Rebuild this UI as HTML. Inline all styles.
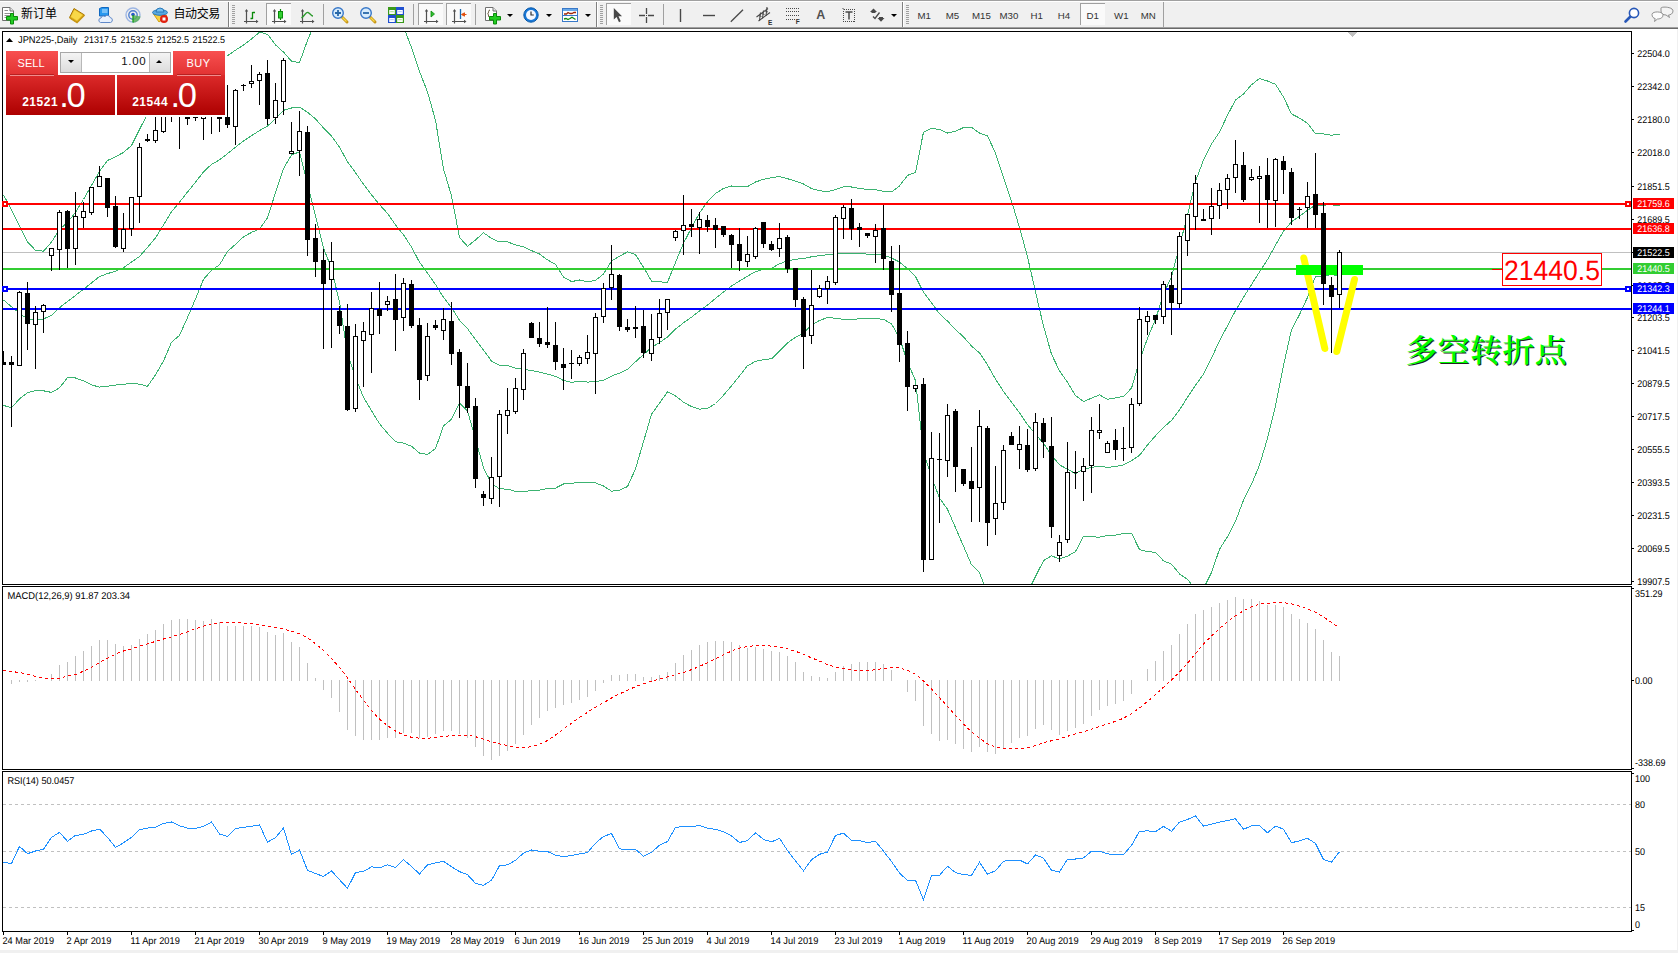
<!DOCTYPE html>
<html><head><meta charset="utf-8"><title>JPN225 Daily</title>
<style>
html,body{margin:0;padding:0;background:#fff;}
body{width:1678px;height:953px;position:relative;overflow:hidden;font-family:"Liberation Sans","Noto Sans CJK SC",sans-serif;}
#edge-r{position:absolute;left:1677px;top:29px;width:1px;height:924px;background:#f0f0f0;}
#edge-b{position:absolute;left:0;top:950px;width:1678px;height:3px;background:#f0f0f0;}
#tb{position:absolute;left:0;top:0;width:1678px;height:29px;background:#f0f0f0;}
#tb .l0{position:absolute;left:0;top:0;width:1678px;height:1px;background:#a0a0a0;}
#tb .l1{position:absolute;left:0;top:1px;width:1678px;height:1px;background:#fff;}
#tb .l27{position:absolute;left:0;top:27px;width:1678px;height:1px;background:#a0a0a0;}
#tb .l28{position:absolute;left:0;top:28px;width:1678px;height:1px;background:#696969;}
#tb .t{position:absolute;top:7px;font-size:12px;line-height:14px;color:#000;white-space:nowrap;}
#tb .tf{position:absolute;top:9.5px;font-size:9.7px;line-height:12px;color:#333;white-space:nowrap;}
#tb .sep{position:absolute;top:4px;width:1px;height:21px;background:#a0a0a0;}
#tb .bsep{position:absolute;top:2px;width:1px;height:25px;background:#808080;border-right:1px solid #fff;}
#tb .grip{position:absolute;top:5px;width:3px;height:20px;background:repeating-linear-gradient(to bottom,#a0a0a0 0,#a0a0a0 1px,transparent 1px,transparent 2px);}
#tb .pr{position:absolute;top:3px;height:22px;width:25px;background:#fafafa;box-sizing:border-box;border-top:1px solid #a0a0a0;border-left:1px solid #a0a0a0;}
#tb svg{position:absolute;overflow:visible;}
#tb .dd{position:absolute;top:14px;width:0;height:0;border-left:3px solid transparent;border-right:3px solid transparent;border-top:3px solid #000;}
#ocp{position:absolute;left:3px;top:47px;width:224px;height:70px;background:#fff;}
#ocp div{position:absolute;box-sizing:border-box;}
#ocp .red1{background:linear-gradient(#f85050,#e23232);}
#ocp .red2{background:linear-gradient(#dc2a2a,#ad0000);}
#ocp .w{color:#fff;white-space:nowrap;}

</style></head><body>
<svg width="1678" height="953" viewBox="0 0 1678 953" shape-rendering="crispEdges" style="position:absolute;left:0;top:0;font-family:'Liberation Sans',sans-serif" text-rendering="geometricPrecision"><rect x="2" y="31" width="1630" height="1" fill="#000"/>
<rect x="2" y="584" width="1630" height="1" fill="#000"/>
<rect x="2" y="31" width="1" height="554" fill="#000"/>
<rect x="1631" y="31" width="1" height="554" fill="#000"/>
<rect x="2" y="586" width="1630" height="1" fill="#000"/>
<rect x="2" y="769" width="1630" height="1" fill="#000"/>
<rect x="2" y="586" width="1" height="184" fill="#000"/>
<rect x="1631" y="586" width="1" height="184" fill="#000"/>
<rect x="2" y="771" width="1630" height="1" fill="#000"/>
<rect x="2" y="931" width="1630" height="1" fill="#000"/>
<rect x="2" y="771" width="1" height="161" fill="#000"/>
<rect x="1631" y="771" width="1" height="161" fill="#000"/>
<rect x="3" y="252" width="1628" height="1" fill="#c0c0c0"/>
<defs><clipPath id="cm"><rect x="3" y="32" width="1628" height="552"/></clipPath><clipPath id="c2"><rect x="3" y="587" width="1628" height="182"/></clipPath><clipPath id="c3"><rect x="3" y="772" width="1628" height="159"/></clipPath></defs>
<polyline points="3.5,194.9 11.5,209.9 19.5,225.8 27.5,241.8 35.5,250.3 43.5,251.2 51.5,242.1 59.5,229.4 67.5,222.5 75.5,212.2 83.5,199.5 91.5,185.3 99.5,171.4 107.5,160.5 115.5,156.8 123.5,152.4 131.5,145.5 139.5,129.5 147.5,114.0 155.5,102.0 163.5,88.9 171.5,81.3 179.5,69.1 187.5,66.4 195.5,65.6 203.5,64.3 211.5,58.7 219.5,54.6 227.5,55.7 235.5,50.2 243.5,45.0 251.5,38.9 259.5,32.2 267.5,34.3 275.5,44.9 283.5,52.1 291.5,61.2 299.5,62.6 307.5,40.3 315.5,21.8 323.5,7.9 331.5,3.5 339.5,-7.8 347.5,-30.1 355.5,-32.3 363.5,-28.7 371.5,-21.2 379.5,-14.5 387.5,-6.3 395.5,8.1 403.5,26.5 411.5,47.7 419.5,71.5 427.5,91.9 435.5,120.3 443.5,168.9 451.5,195.9 459.5,237.5 467.5,246.3 475.5,240.0 483.5,232.7 491.5,238.5 499.5,242.0 507.5,241.9 515.5,244.9 523.5,246.9 531.5,250.6 539.5,254.0 547.5,259.9 555.5,264.5 563.5,277.0 571.5,281.6 579.5,280.0 587.5,281.9 595.5,280.3 603.5,274.1 611.5,261.0 619.5,256.2 627.5,251.9 635.5,254.6 643.5,267.3 651.5,281.0 659.5,281.9 667.5,282.2 675.5,262.4 683.5,243.3 691.5,227.8 699.5,212.9 707.5,201.7 715.5,193.5 723.5,188.4 731.5,186.0 739.5,186.2 747.5,186.6 755.5,182.0 763.5,179.3 771.5,177.6 779.5,176.5 787.5,178.7 795.5,181.2 803.5,184.0 811.5,188.5 819.5,190.6 827.5,191.7 835.5,189.7 843.5,186.7 851.5,187.0 859.5,188.4 867.5,189.4 875.5,189.6 883.5,191.4 891.5,191.9 899.5,186.0 907.5,175.4 915.5,172.3 923.5,132.1 931.5,128.5 939.5,129.5 947.5,133.0 955.5,131.3 963.5,127.6 971.5,127.2 979.5,133.1 987.5,135.9 995.5,153.1 1003.5,177.7 1011.5,201.1 1019.5,227.6 1027.5,256.8 1035.5,291.9 1043.5,326.1 1051.5,354.2 1059.5,370.8 1067.5,382.2 1075.5,395.5 1083.5,401.5 1091.5,398.2 1099.5,394.9 1107.5,399.3 1115.5,398.0 1123.5,396.3 1131.5,388.2 1139.5,361.0 1147.5,338.2 1155.5,319.4 1163.5,294.1 1171.5,276.7 1179.5,246.1 1187.5,215.1 1195.5,181.3 1203.5,160.0 1211.5,144.0 1219.5,132.1 1227.5,115.2 1235.5,99.9 1243.5,94.1 1251.5,84.7 1259.5,78.6 1267.5,81.0 1275.5,84.3 1283.5,97.1 1291.5,113.9 1299.5,118.1 1307.5,123.3 1315.5,133.7 1323.5,133.9 1331.5,135.2 1339.5,134.2" fill="none" stroke="#3cb371" stroke-width="1" clip-path="url(#cm)"/>
<polyline points="3.5,300.0 11.5,306.7 19.5,313.3 27.5,319.0 35.5,319.5 43.5,319.0 51.5,315.2 59.5,307.7 67.5,301.4 75.5,295.4 83.5,289.3 91.5,282.9 99.5,276.5 107.5,273.6 115.5,271.3 123.5,267.7 131.5,262.1 139.5,256.5 147.5,247.4 155.5,237.8 163.5,224.9 171.5,211.8 179.5,202.2 187.5,192.0 195.5,182.2 203.5,171.8 211.5,164.4 219.5,159.8 227.5,153.6 235.5,147.2 243.5,140.9 251.5,135.7 259.5,130.6 267.5,126.1 275.5,118.8 283.5,110.3 291.5,108.0 299.5,107.2 307.5,112.2 315.5,118.8 323.5,128.0 331.5,136.0 339.5,147.2 347.5,161.7 355.5,172.7 363.5,184.3 371.5,194.8 379.5,204.6 387.5,213.4 395.5,224.9 403.5,234.8 411.5,247.0 419.5,262.2 427.5,273.1 435.5,284.5 443.5,297.4 451.5,307.6 459.5,320.2 467.5,328.6 475.5,339.5 483.5,350.2 491.5,361.0 499.5,365.4 507.5,365.5 515.5,368.1 523.5,369.2 531.5,370.6 539.5,372.1 547.5,374.2 555.5,376.3 563.5,380.5 571.5,382.4 579.5,381.3 587.5,382.1 595.5,381.6 603.5,380.1 611.5,376.1 619.5,373.1 627.5,369.2 635.5,361.8 643.5,354.5 651.5,347.6 659.5,342.6 667.5,337.0 675.5,329.1 683.5,322.8 691.5,317.2 699.5,311.0 707.5,305.1 715.5,298.5 723.5,291.9 731.5,285.9 739.5,281.1 747.5,276.1 755.5,271.7 763.5,269.4 771.5,268.2 779.5,263.8 787.5,260.8 795.5,259.3 803.5,258.5 811.5,256.8 819.5,255.6 827.5,254.7 835.5,253.9 843.5,253.1 851.5,253.2 859.5,253.7 867.5,254.1 875.5,254.2 883.5,255.3 891.5,257.9 899.5,262.1 907.5,268.6 915.5,276.5 923.5,292.3 931.5,302.8 939.5,313.8 947.5,321.1 955.5,329.5 963.5,336.9 971.5,346.0 979.5,352.9 987.5,364.9 995.5,379.2 1003.5,391.4 1011.5,402.2 1019.5,412.9 1027.5,424.6 1035.5,434.2 1043.5,443.4 1051.5,455.0 1059.5,464.9 1067.5,469.2 1075.5,473.6 1083.5,468.9 1091.5,467.5 1099.5,466.1 1107.5,467.4 1115.5,466.6 1123.5,464.9 1131.5,460.6 1139.5,455.3 1147.5,445.0 1155.5,435.8 1163.5,427.5 1171.5,420.4 1179.5,410.0 1187.5,397.2 1195.5,385.3 1203.5,374.2 1211.5,358.2 1219.5,340.6 1227.5,325.9 1235.5,310.6 1243.5,297.2 1251.5,284.6 1259.5,271.9 1267.5,259.6 1275.5,245.2 1283.5,231.2 1291.5,221.8 1299.5,216.3 1307.5,210.3 1315.5,205.1 1323.5,205.1 1331.5,204.8 1339.5,205.6" fill="none" stroke="#3cb371" stroke-width="1" clip-path="url(#cm)"/>
<polyline points="3.5,405.4 11.5,407.8 19.5,398.9 27.5,392.7 35.5,390.7 43.5,390.8 51.5,392.4 59.5,387.8 67.5,377.7 75.5,378.0 83.5,380.8 91.5,384.9 99.5,387.1 107.5,386.2 115.5,385.1 123.5,384.2 131.5,383.5 139.5,384.1 147.5,386.3 155.5,374.9 163.5,361.0 171.5,342.2 179.5,335.4 187.5,317.6 195.5,298.9 203.5,279.4 211.5,270.2 219.5,264.9 227.5,251.4 235.5,244.3 243.5,236.9 251.5,232.4 259.5,228.9 267.5,217.9 275.5,192.7 283.5,168.6 291.5,154.9 299.5,151.9 307.5,184.1 315.5,215.7 323.5,248.0 331.5,268.5 339.5,302.1 347.5,353.5 355.5,377.6 363.5,397.4 371.5,410.7 379.5,423.7 387.5,433.2 395.5,441.7 403.5,443.1 411.5,446.3 419.5,453.0 427.5,454.4 435.5,448.7 443.5,426.0 451.5,419.2 459.5,403.0 467.5,411.0 475.5,439.0 483.5,467.7 491.5,483.5 499.5,488.9 507.5,489.1 515.5,491.3 523.5,491.5 531.5,490.7 539.5,490.1 547.5,488.5 555.5,488.1 563.5,484.0 571.5,483.2 579.5,482.6 587.5,482.3 595.5,482.9 603.5,486.0 611.5,491.2 619.5,490.1 627.5,486.6 635.5,468.9 643.5,441.7 651.5,414.2 659.5,403.2 667.5,391.8 675.5,395.9 683.5,402.2 691.5,406.6 699.5,409.1 707.5,408.5 715.5,403.5 723.5,395.3 731.5,385.8 739.5,375.9 747.5,365.7 755.5,361.4 763.5,359.6 771.5,358.8 779.5,351.1 787.5,342.8 795.5,337.4 803.5,333.0 811.5,325.1 819.5,320.5 827.5,317.6 835.5,318.2 843.5,319.4 851.5,319.3 859.5,318.9 867.5,318.8 875.5,318.7 883.5,319.3 891.5,323.8 899.5,338.1 907.5,361.9 915.5,380.7 923.5,452.5 931.5,477.0 939.5,498.1 947.5,509.3 955.5,527.7 963.5,546.1 971.5,564.8 979.5,572.7 987.5,594.0 995.5,605.4 1003.5,605.1 1011.5,603.3 1019.5,598.3 1027.5,592.5 1035.5,576.6 1043.5,560.7 1051.5,555.8 1059.5,559.0 1067.5,556.2 1075.5,551.6 1083.5,536.3 1091.5,536.8 1099.5,537.2 1107.5,535.6 1115.5,535.2 1123.5,533.4 1131.5,533.1 1139.5,549.6 1147.5,551.8 1155.5,552.2 1163.5,560.9 1171.5,564.1 1179.5,573.9 1187.5,579.4 1195.5,589.3 1203.5,588.5 1211.5,572.5 1219.5,549.2 1227.5,536.7 1235.5,521.2 1243.5,500.3 1251.5,484.4 1259.5,465.1 1267.5,438.3 1275.5,406.0 1283.5,365.3 1291.5,329.8 1299.5,314.6 1307.5,297.4 1315.5,276.5 1323.5,276.2 1331.5,274.3 1339.5,276.9" fill="none" stroke="#3cb371" stroke-width="1" clip-path="url(#cm)"/>
<g id="objs">
<rect x="3" y="203" width="1628" height="2" fill="#ff0000"/>
<rect x="3" y="228" width="1628" height="2" fill="#ff0000"/>
<rect x="3" y="268" width="1628" height="2" fill="#32cd32"/>
<rect x="3" y="288" width="1628" height="2" fill="#0000ff"/>
<rect x="3" y="308" width="1628" height="2" fill="#0000ff"/>
<rect x="2" y="201" width="6" height="6" fill="#ff0000"/>
<rect x="4" y="203" width="2" height="2" fill="#fff"/>
<rect x="2" y="286" width="6" height="6" fill="#0000ff"/>
<rect x="4" y="288" width="2" height="2" fill="#fff"/>
<rect x="1625" y="201" width="6" height="6" fill="#ff0000"/>
<rect x="1627" y="203" width="2" height="2" fill="#fff"/>
<rect x="1625" y="286" width="6" height="6" fill="#0000ff"/>
<rect x="1627" y="288" width="2" height="2" fill="#fff"/>
<g shape-rendering="auto" stroke="#ffff00" stroke-width="7" stroke-linecap="round" fill="none"><line x1="1303.8" y1="258" x2="1324.8" y2="348.5"/><line x1="1354.5" y1="279.5" x2="1336.8" y2="351.5"/></g>
<rect x="1296" y="265" width="67" height="10" fill="#00ff00"/>
</g>
<g id="candles" clip-path="url(#cm)">
<rect x="3" y="351" width="1" height="14" fill="#000"/>
<rect x="1" y="362" width="5" height="3" fill="#000"/>
<rect x="11" y="356" width="1" height="71" fill="#000"/>
<rect x="9" y="362" width="5" height="3" fill="#000"/>
<rect x="19" y="291" width="1" height="75" fill="#000"/>
<rect x="17" y="292" width="5" height="74" fill="#000"/>
<rect x="18" y="293" width="3" height="72" fill="#fff"/>
<rect x="27" y="282" width="1" height="68" fill="#000"/>
<rect x="25" y="293" width="5" height="31" fill="#000"/>
<rect x="35" y="306" width="1" height="63" fill="#000"/>
<rect x="33" y="312" width="5" height="13" fill="#000"/>
<rect x="34" y="313" width="3" height="11" fill="#fff"/>
<rect x="43" y="304" width="1" height="29" fill="#000"/>
<rect x="41" y="305" width="5" height="7" fill="#000"/>
<rect x="42" y="306" width="3" height="5" fill="#fff"/>
<rect x="51" y="248" width="1" height="23" fill="#000"/>
<rect x="49" y="248" width="5" height="8" fill="#000"/>
<rect x="50" y="249" width="3" height="6" fill="#fff"/>
<rect x="59" y="210" width="1" height="60" fill="#000"/>
<rect x="57" y="212" width="5" height="38" fill="#000"/>
<rect x="58" y="213" width="3" height="36" fill="#fff"/>
<rect x="67" y="210" width="1" height="58" fill="#000"/>
<rect x="65" y="211" width="5" height="38" fill="#000"/>
<rect x="75" y="192" width="1" height="73" fill="#000"/>
<rect x="73" y="216" width="5" height="33" fill="#000"/>
<rect x="74" y="217" width="3" height="31" fill="#fff"/>
<rect x="83" y="202" width="1" height="26" fill="#000"/>
<rect x="81" y="211" width="5" height="7" fill="#000"/>
<rect x="82" y="212" width="3" height="5" fill="#fff"/>
<rect x="91" y="187" width="1" height="28" fill="#000"/>
<rect x="89" y="187" width="5" height="26" fill="#000"/>
<rect x="90" y="188" width="3" height="24" fill="#fff"/>
<rect x="99" y="166" width="1" height="21" fill="#000"/>
<rect x="97" y="176" width="5" height="11" fill="#000"/>
<rect x="98" y="177" width="3" height="9" fill="#fff"/>
<rect x="107" y="178" width="1" height="39" fill="#000"/>
<rect x="105" y="178" width="5" height="30" fill="#000"/>
<rect x="115" y="196" width="1" height="52" fill="#000"/>
<rect x="113" y="206" width="5" height="41" fill="#000"/>
<rect x="123" y="213" width="1" height="39" fill="#000"/>
<rect x="121" y="229" width="5" height="20" fill="#000"/>
<rect x="122" y="230" width="3" height="18" fill="#fff"/>
<rect x="131" y="197" width="1" height="39" fill="#000"/>
<rect x="129" y="197" width="5" height="32" fill="#000"/>
<rect x="130" y="198" width="3" height="30" fill="#fff"/>
<rect x="139" y="143" width="1" height="80" fill="#000"/>
<rect x="137" y="147" width="5" height="50" fill="#000"/>
<rect x="138" y="148" width="3" height="48" fill="#fff"/>
<rect x="147" y="134" width="1" height="8" fill="#000"/>
<rect x="145" y="139" width="5" height="2" fill="#000"/>
<rect x="155" y="108" width="1" height="35" fill="#000"/>
<rect x="153" y="130" width="5" height="11" fill="#000"/>
<rect x="154" y="131" width="3" height="9" fill="#fff"/>
<rect x="163" y="97" width="1" height="36" fill="#000"/>
<rect x="161" y="99" width="5" height="33" fill="#000"/>
<rect x="162" y="100" width="3" height="31" fill="#fff"/>
<rect x="171" y="96" width="1" height="26" fill="#000"/>
<rect x="169" y="98" width="5" height="3" fill="#000"/>
<rect x="179" y="98" width="1" height="51" fill="#000"/>
<rect x="177" y="100" width="5" height="3" fill="#000"/>
<rect x="187" y="110" width="1" height="15" fill="#000"/>
<rect x="185" y="112" width="5" height="7" fill="#000"/>
<rect x="195" y="112" width="1" height="9" fill="#000"/>
<rect x="193" y="117" width="5" height="1" fill="#000"/>
<rect x="203" y="95" width="1" height="45" fill="#000"/>
<rect x="201" y="97" width="5" height="22" fill="#000"/>
<rect x="202" y="98" width="3" height="20" fill="#fff"/>
<rect x="211" y="96" width="1" height="38" fill="#000"/>
<rect x="209" y="98" width="5" height="3" fill="#000"/>
<rect x="219" y="110" width="1" height="22" fill="#000"/>
<rect x="217" y="113" width="5" height="6" fill="#000"/>
<rect x="227" y="85" width="1" height="43" fill="#000"/>
<rect x="225" y="117" width="5" height="8" fill="#000"/>
<rect x="235" y="89" width="1" height="56" fill="#000"/>
<rect x="233" y="90" width="5" height="37" fill="#000"/>
<rect x="234" y="91" width="3" height="35" fill="#fff"/>
<rect x="243" y="84" width="1" height="7" fill="#000"/>
<rect x="241" y="85" width="5" height="1" fill="#000"/>
<rect x="251" y="65" width="1" height="23" fill="#000"/>
<rect x="249" y="81" width="5" height="3" fill="#000"/>
<rect x="250" y="82" width="3" height="1" fill="#fff"/>
<rect x="259" y="72" width="1" height="33" fill="#000"/>
<rect x="257" y="74" width="5" height="7" fill="#000"/>
<rect x="258" y="75" width="3" height="5" fill="#fff"/>
<rect x="267" y="60" width="1" height="65" fill="#000"/>
<rect x="265" y="73" width="5" height="46" fill="#000"/>
<rect x="275" y="83" width="1" height="41" fill="#000"/>
<rect x="273" y="100" width="5" height="18" fill="#000"/>
<rect x="274" y="101" width="3" height="16" fill="#fff"/>
<rect x="283" y="58" width="1" height="57" fill="#000"/>
<rect x="281" y="60" width="5" height="42" fill="#000"/>
<rect x="282" y="61" width="3" height="40" fill="#fff"/>
<rect x="291" y="122" width="1" height="32" fill="#000"/>
<rect x="289" y="151" width="5" height="3" fill="#000"/>
<rect x="290" y="152" width="3" height="1" fill="#fff"/>
<rect x="299" y="111" width="1" height="65" fill="#000"/>
<rect x="297" y="131" width="5" height="20" fill="#000"/>
<rect x="298" y="132" width="3" height="18" fill="#fff"/>
<rect x="307" y="126" width="1" height="130" fill="#000"/>
<rect x="305" y="132" width="5" height="108" fill="#000"/>
<rect x="315" y="224" width="1" height="53" fill="#000"/>
<rect x="313" y="238" width="5" height="24" fill="#000"/>
<rect x="323" y="249" width="1" height="100" fill="#000"/>
<rect x="321" y="260" width="5" height="24" fill="#000"/>
<rect x="331" y="242" width="1" height="106" fill="#000"/>
<rect x="329" y="261" width="5" height="19" fill="#000"/>
<rect x="330" y="262" width="3" height="17" fill="#fff"/>
<rect x="339" y="306" width="1" height="28" fill="#000"/>
<rect x="337" y="311" width="5" height="15" fill="#000"/>
<rect x="347" y="304" width="1" height="107" fill="#000"/>
<rect x="345" y="326" width="5" height="84" fill="#000"/>
<rect x="355" y="324" width="1" height="88" fill="#000"/>
<rect x="353" y="336" width="5" height="73" fill="#000"/>
<rect x="354" y="337" width="3" height="71" fill="#fff"/>
<rect x="363" y="322" width="1" height="65" fill="#000"/>
<rect x="361" y="331" width="5" height="10" fill="#000"/>
<rect x="362" y="332" width="3" height="8" fill="#fff"/>
<rect x="371" y="292" width="1" height="81" fill="#000"/>
<rect x="369" y="308" width="5" height="27" fill="#000"/>
<rect x="370" y="309" width="3" height="25" fill="#fff"/>
<rect x="379" y="282" width="1" height="52" fill="#000"/>
<rect x="377" y="309" width="5" height="7" fill="#000"/>
<rect x="387" y="296" width="1" height="15" fill="#000"/>
<rect x="385" y="301" width="5" height="4" fill="#000"/>
<rect x="386" y="302" width="3" height="2" fill="#fff"/>
<rect x="395" y="274" width="1" height="77" fill="#000"/>
<rect x="393" y="299" width="5" height="21" fill="#000"/>
<rect x="403" y="278" width="1" height="53" fill="#000"/>
<rect x="401" y="283" width="5" height="35" fill="#000"/>
<rect x="402" y="284" width="3" height="33" fill="#fff"/>
<rect x="411" y="280" width="1" height="48" fill="#000"/>
<rect x="409" y="284" width="5" height="42" fill="#000"/>
<rect x="419" y="318" width="1" height="82" fill="#000"/>
<rect x="417" y="325" width="5" height="55" fill="#000"/>
<rect x="427" y="323" width="1" height="58" fill="#000"/>
<rect x="425" y="336" width="5" height="40" fill="#000"/>
<rect x="426" y="337" width="3" height="38" fill="#fff"/>
<rect x="435" y="320" width="1" height="10" fill="#000"/>
<rect x="433" y="325" width="5" height="3" fill="#000"/>
<rect x="443" y="308" width="1" height="32" fill="#000"/>
<rect x="441" y="319" width="5" height="12" fill="#000"/>
<rect x="442" y="320" width="3" height="10" fill="#fff"/>
<rect x="451" y="302" width="1" height="63" fill="#000"/>
<rect x="449" y="321" width="5" height="33" fill="#000"/>
<rect x="459" y="349" width="1" height="69" fill="#000"/>
<rect x="457" y="352" width="5" height="34" fill="#000"/>
<rect x="467" y="363" width="1" height="50" fill="#000"/>
<rect x="465" y="386" width="5" height="22" fill="#000"/>
<rect x="475" y="398" width="1" height="90" fill="#000"/>
<rect x="473" y="406" width="5" height="73" fill="#000"/>
<rect x="483" y="491" width="1" height="15" fill="#000"/>
<rect x="481" y="494" width="5" height="4" fill="#000"/>
<rect x="491" y="457" width="1" height="47" fill="#000"/>
<rect x="489" y="477" width="5" height="22" fill="#000"/>
<rect x="490" y="478" width="3" height="20" fill="#fff"/>
<rect x="499" y="410" width="1" height="97" fill="#000"/>
<rect x="497" y="414" width="5" height="63" fill="#000"/>
<rect x="498" y="415" width="3" height="61" fill="#fff"/>
<rect x="507" y="388" width="1" height="46" fill="#000"/>
<rect x="505" y="410" width="5" height="6" fill="#000"/>
<rect x="506" y="411" width="3" height="4" fill="#fff"/>
<rect x="515" y="378" width="1" height="36" fill="#000"/>
<rect x="513" y="388" width="5" height="24" fill="#000"/>
<rect x="514" y="389" width="3" height="22" fill="#fff"/>
<rect x="523" y="349" width="1" height="51" fill="#000"/>
<rect x="521" y="353" width="5" height="37" fill="#000"/>
<rect x="522" y="354" width="3" height="35" fill="#fff"/>
<rect x="531" y="322" width="1" height="16" fill="#000"/>
<rect x="529" y="323" width="5" height="15" fill="#000"/>
<rect x="539" y="322" width="1" height="25" fill="#000"/>
<rect x="537" y="338" width="5" height="6" fill="#000"/>
<rect x="547" y="307" width="1" height="41" fill="#000"/>
<rect x="545" y="342" width="5" height="3" fill="#000"/>
<rect x="555" y="322" width="1" height="48" fill="#000"/>
<rect x="553" y="345" width="5" height="17" fill="#000"/>
<rect x="563" y="348" width="1" height="42" fill="#000"/>
<rect x="561" y="364" width="5" height="4" fill="#000"/>
<rect x="571" y="350" width="1" height="29" fill="#000"/>
<rect x="569" y="363" width="5" height="1" fill="#000"/>
<rect x="579" y="355" width="1" height="11" fill="#000"/>
<rect x="577" y="357" width="5" height="7" fill="#000"/>
<rect x="578" y="358" width="3" height="5" fill="#fff"/>
<rect x="587" y="335" width="1" height="29" fill="#000"/>
<rect x="585" y="352" width="5" height="7" fill="#000"/>
<rect x="586" y="353" width="3" height="5" fill="#fff"/>
<rect x="595" y="313" width="1" height="81" fill="#000"/>
<rect x="593" y="317" width="5" height="37" fill="#000"/>
<rect x="594" y="318" width="3" height="35" fill="#fff"/>
<rect x="603" y="283" width="1" height="40" fill="#000"/>
<rect x="601" y="288" width="5" height="29" fill="#000"/>
<rect x="602" y="289" width="3" height="27" fill="#fff"/>
<rect x="611" y="245" width="1" height="55" fill="#000"/>
<rect x="609" y="274" width="5" height="14" fill="#000"/>
<rect x="610" y="275" width="3" height="12" fill="#fff"/>
<rect x="619" y="274" width="1" height="57" fill="#000"/>
<rect x="617" y="275" width="5" height="52" fill="#000"/>
<rect x="627" y="319" width="1" height="13" fill="#000"/>
<rect x="625" y="327" width="5" height="3" fill="#000"/>
<rect x="635" y="306" width="1" height="32" fill="#000"/>
<rect x="633" y="327" width="5" height="2" fill="#000"/>
<rect x="643" y="310" width="1" height="48" fill="#000"/>
<rect x="641" y="326" width="5" height="27" fill="#000"/>
<rect x="651" y="314" width="1" height="47" fill="#000"/>
<rect x="649" y="339" width="5" height="15" fill="#000"/>
<rect x="650" y="340" width="3" height="13" fill="#fff"/>
<rect x="659" y="299" width="1" height="45" fill="#000"/>
<rect x="657" y="313" width="5" height="25" fill="#000"/>
<rect x="658" y="314" width="3" height="23" fill="#fff"/>
<rect x="667" y="299" width="1" height="31" fill="#000"/>
<rect x="665" y="299" width="5" height="14" fill="#000"/>
<rect x="666" y="300" width="3" height="12" fill="#fff"/>
<rect x="675" y="230" width="1" height="11" fill="#000"/>
<rect x="673" y="231" width="5" height="7" fill="#000"/>
<rect x="674" y="232" width="3" height="5" fill="#fff"/>
<rect x="683" y="195" width="1" height="60" fill="#000"/>
<rect x="681" y="225" width="5" height="6" fill="#000"/>
<rect x="682" y="226" width="3" height="4" fill="#fff"/>
<rect x="691" y="209" width="1" height="28" fill="#000"/>
<rect x="689" y="224" width="5" height="3" fill="#000"/>
<rect x="699" y="212" width="1" height="42" fill="#000"/>
<rect x="697" y="219" width="5" height="9" fill="#000"/>
<rect x="698" y="220" width="3" height="7" fill="#fff"/>
<rect x="707" y="215" width="1" height="17" fill="#000"/>
<rect x="705" y="220" width="5" height="7" fill="#000"/>
<rect x="715" y="218" width="1" height="30" fill="#000"/>
<rect x="713" y="225" width="5" height="5" fill="#000"/>
<rect x="723" y="226" width="1" height="11" fill="#000"/>
<rect x="721" y="226" width="5" height="9" fill="#000"/>
<rect x="731" y="234" width="1" height="34" fill="#000"/>
<rect x="729" y="235" width="5" height="10" fill="#000"/>
<rect x="739" y="228" width="1" height="43" fill="#000"/>
<rect x="737" y="244" width="5" height="17" fill="#000"/>
<rect x="747" y="236" width="1" height="31" fill="#000"/>
<rect x="745" y="254" width="5" height="8" fill="#000"/>
<rect x="746" y="255" width="3" height="6" fill="#fff"/>
<rect x="755" y="227" width="1" height="32" fill="#000"/>
<rect x="753" y="228" width="5" height="29" fill="#000"/>
<rect x="754" y="229" width="3" height="27" fill="#fff"/>
<rect x="763" y="222" width="1" height="26" fill="#000"/>
<rect x="761" y="222" width="5" height="22" fill="#000"/>
<rect x="771" y="241" width="1" height="10" fill="#000"/>
<rect x="769" y="244" width="5" height="6" fill="#000"/>
<rect x="779" y="223" width="1" height="34" fill="#000"/>
<rect x="777" y="238" width="5" height="11" fill="#000"/>
<rect x="778" y="239" width="3" height="9" fill="#fff"/>
<rect x="787" y="235" width="1" height="38" fill="#000"/>
<rect x="785" y="237" width="5" height="32" fill="#000"/>
<rect x="795" y="268" width="1" height="39" fill="#000"/>
<rect x="793" y="268" width="5" height="32" fill="#000"/>
<rect x="803" y="297" width="1" height="72" fill="#000"/>
<rect x="801" y="299" width="5" height="38" fill="#000"/>
<rect x="811" y="270" width="1" height="74" fill="#000"/>
<rect x="809" y="305" width="5" height="31" fill="#000"/>
<rect x="810" y="306" width="3" height="29" fill="#fff"/>
<rect x="819" y="285" width="1" height="13" fill="#000"/>
<rect x="817" y="288" width="5" height="9" fill="#000"/>
<rect x="818" y="289" width="3" height="7" fill="#fff"/>
<rect x="827" y="276" width="1" height="28" fill="#000"/>
<rect x="825" y="281" width="5" height="8" fill="#000"/>
<rect x="826" y="282" width="3" height="6" fill="#fff"/>
<rect x="835" y="215" width="1" height="70" fill="#000"/>
<rect x="833" y="217" width="5" height="66" fill="#000"/>
<rect x="834" y="218" width="3" height="64" fill="#fff"/>
<rect x="843" y="205" width="1" height="34" fill="#000"/>
<rect x="841" y="207" width="5" height="12" fill="#000"/>
<rect x="842" y="208" width="3" height="10" fill="#fff"/>
<rect x="851" y="199" width="1" height="41" fill="#000"/>
<rect x="849" y="208" width="5" height="21" fill="#000"/>
<rect x="859" y="223" width="1" height="24" fill="#000"/>
<rect x="857" y="227" width="5" height="3" fill="#000"/>
<rect x="867" y="233" width="1" height="5" fill="#000"/>
<rect x="865" y="233" width="5" height="3" fill="#000"/>
<rect x="875" y="224" width="1" height="39" fill="#000"/>
<rect x="873" y="230" width="5" height="7" fill="#000"/>
<rect x="874" y="231" width="3" height="5" fill="#fff"/>
<rect x="883" y="205" width="1" height="65" fill="#000"/>
<rect x="881" y="228" width="5" height="31" fill="#000"/>
<rect x="891" y="246" width="1" height="66" fill="#000"/>
<rect x="889" y="261" width="5" height="34" fill="#000"/>
<rect x="899" y="245" width="1" height="117" fill="#000"/>
<rect x="897" y="293" width="5" height="52" fill="#000"/>
<rect x="907" y="331" width="1" height="80" fill="#000"/>
<rect x="905" y="343" width="5" height="44" fill="#000"/>
<rect x="915" y="385" width="1" height="7" fill="#000"/>
<rect x="913" y="385" width="5" height="4" fill="#000"/>
<rect x="914" y="386" width="3" height="2" fill="#fff"/>
<rect x="923" y="378" width="1" height="194" fill="#000"/>
<rect x="921" y="384" width="5" height="176" fill="#000"/>
<rect x="931" y="432" width="1" height="128" fill="#000"/>
<rect x="929" y="458" width="5" height="102" fill="#000"/>
<rect x="930" y="459" width="3" height="100" fill="#fff"/>
<rect x="939" y="433" width="1" height="90" fill="#000"/>
<rect x="937" y="459" width="5" height="1" fill="#000"/>
<rect x="947" y="404" width="1" height="73" fill="#000"/>
<rect x="945" y="415" width="5" height="46" fill="#000"/>
<rect x="946" y="416" width="3" height="44" fill="#fff"/>
<rect x="955" y="409" width="1" height="83" fill="#000"/>
<rect x="953" y="411" width="5" height="56" fill="#000"/>
<rect x="963" y="469" width="1" height="17" fill="#000"/>
<rect x="961" y="469" width="5" height="15" fill="#000"/>
<rect x="971" y="447" width="1" height="75" fill="#000"/>
<rect x="969" y="481" width="5" height="8" fill="#000"/>
<rect x="979" y="410" width="1" height="112" fill="#000"/>
<rect x="977" y="426" width="5" height="62" fill="#000"/>
<rect x="978" y="427" width="3" height="60" fill="#fff"/>
<rect x="987" y="426" width="1" height="120" fill="#000"/>
<rect x="985" y="428" width="5" height="95" fill="#000"/>
<rect x="995" y="466" width="1" height="69" fill="#000"/>
<rect x="993" y="503" width="5" height="16" fill="#000"/>
<rect x="994" y="504" width="3" height="14" fill="#fff"/>
<rect x="1003" y="445" width="1" height="65" fill="#000"/>
<rect x="1001" y="450" width="5" height="53" fill="#000"/>
<rect x="1002" y="451" width="3" height="51" fill="#fff"/>
<rect x="1011" y="432" width="1" height="13" fill="#000"/>
<rect x="1009" y="436" width="5" height="9" fill="#000"/>
<rect x="1019" y="426" width="1" height="43" fill="#000"/>
<rect x="1017" y="444" width="5" height="6" fill="#000"/>
<rect x="1018" y="445" width="3" height="4" fill="#fff"/>
<rect x="1027" y="429" width="1" height="43" fill="#000"/>
<rect x="1025" y="445" width="5" height="25" fill="#000"/>
<rect x="1035" y="413" width="1" height="58" fill="#000"/>
<rect x="1033" y="422" width="5" height="47" fill="#000"/>
<rect x="1034" y="423" width="3" height="45" fill="#fff"/>
<rect x="1043" y="418" width="1" height="40" fill="#000"/>
<rect x="1041" y="423" width="5" height="19" fill="#000"/>
<rect x="1051" y="417" width="1" height="121" fill="#000"/>
<rect x="1049" y="446" width="5" height="81" fill="#000"/>
<rect x="1059" y="535" width="1" height="27" fill="#000"/>
<rect x="1057" y="542" width="5" height="14" fill="#000"/>
<rect x="1058" y="543" width="3" height="12" fill="#fff"/>
<rect x="1067" y="442" width="1" height="101" fill="#000"/>
<rect x="1065" y="472" width="5" height="68" fill="#000"/>
<rect x="1066" y="473" width="3" height="66" fill="#fff"/>
<rect x="1075" y="451" width="1" height="38" fill="#000"/>
<rect x="1073" y="472" width="5" height="1" fill="#000"/>
<rect x="1083" y="458" width="1" height="43" fill="#000"/>
<rect x="1081" y="466" width="5" height="6" fill="#000"/>
<rect x="1082" y="467" width="3" height="4" fill="#fff"/>
<rect x="1091" y="417" width="1" height="76" fill="#000"/>
<rect x="1089" y="430" width="5" height="36" fill="#000"/>
<rect x="1090" y="431" width="3" height="34" fill="#fff"/>
<rect x="1099" y="404" width="1" height="35" fill="#000"/>
<rect x="1097" y="430" width="5" height="3" fill="#000"/>
<rect x="1098" y="431" width="3" height="1" fill="#fff"/>
<rect x="1107" y="441" width="1" height="12" fill="#000"/>
<rect x="1105" y="443" width="5" height="10" fill="#000"/>
<rect x="1106" y="444" width="3" height="8" fill="#fff"/>
<rect x="1115" y="429" width="1" height="31" fill="#000"/>
<rect x="1113" y="440" width="5" height="10" fill="#000"/>
<rect x="1123" y="427" width="1" height="34" fill="#000"/>
<rect x="1121" y="448" width="5" height="1" fill="#000"/>
<rect x="1131" y="398" width="1" height="55" fill="#000"/>
<rect x="1129" y="404" width="5" height="44" fill="#000"/>
<rect x="1130" y="405" width="3" height="42" fill="#fff"/>
<rect x="1139" y="307" width="1" height="99" fill="#000"/>
<rect x="1137" y="319" width="5" height="85" fill="#000"/>
<rect x="1138" y="320" width="3" height="83" fill="#fff"/>
<rect x="1147" y="311" width="1" height="24" fill="#000"/>
<rect x="1145" y="316" width="5" height="6" fill="#000"/>
<rect x="1146" y="317" width="3" height="4" fill="#fff"/>
<rect x="1155" y="315" width="1" height="9" fill="#000"/>
<rect x="1153" y="315" width="5" height="5" fill="#000"/>
<rect x="1163" y="281" width="1" height="43" fill="#000"/>
<rect x="1161" y="284" width="5" height="33" fill="#000"/>
<rect x="1162" y="285" width="3" height="31" fill="#fff"/>
<rect x="1171" y="272" width="1" height="63" fill="#000"/>
<rect x="1169" y="285" width="5" height="18" fill="#000"/>
<rect x="1179" y="232" width="1" height="76" fill="#000"/>
<rect x="1177" y="236" width="5" height="68" fill="#000"/>
<rect x="1178" y="237" width="3" height="66" fill="#fff"/>
<rect x="1187" y="214" width="1" height="42" fill="#000"/>
<rect x="1185" y="214" width="5" height="27" fill="#000"/>
<rect x="1186" y="215" width="3" height="25" fill="#fff"/>
<rect x="1195" y="175" width="1" height="55" fill="#000"/>
<rect x="1193" y="183" width="5" height="34" fill="#000"/>
<rect x="1194" y="184" width="3" height="32" fill="#fff"/>
<rect x="1203" y="209" width="1" height="12" fill="#000"/>
<rect x="1201" y="219" width="5" height="2" fill="#000"/>
<rect x="1211" y="188" width="1" height="47" fill="#000"/>
<rect x="1209" y="206" width="5" height="13" fill="#000"/>
<rect x="1210" y="207" width="3" height="11" fill="#fff"/>
<rect x="1219" y="183" width="1" height="36" fill="#000"/>
<rect x="1217" y="190" width="5" height="16" fill="#000"/>
<rect x="1218" y="191" width="3" height="14" fill="#fff"/>
<rect x="1227" y="174" width="1" height="35" fill="#000"/>
<rect x="1225" y="178" width="5" height="12" fill="#000"/>
<rect x="1226" y="179" width="3" height="10" fill="#fff"/>
<rect x="1235" y="140" width="1" height="53" fill="#000"/>
<rect x="1233" y="164" width="5" height="14" fill="#000"/>
<rect x="1234" y="165" width="3" height="12" fill="#fff"/>
<rect x="1243" y="152" width="1" height="50" fill="#000"/>
<rect x="1241" y="165" width="5" height="35" fill="#000"/>
<rect x="1251" y="169" width="1" height="12" fill="#000"/>
<rect x="1249" y="177" width="5" height="3" fill="#000"/>
<rect x="1250" y="178" width="3" height="1" fill="#fff"/>
<rect x="1259" y="166" width="1" height="57" fill="#000"/>
<rect x="1257" y="176" width="5" height="3" fill="#000"/>
<rect x="1258" y="177" width="3" height="1" fill="#fff"/>
<rect x="1267" y="158" width="1" height="70" fill="#000"/>
<rect x="1265" y="175" width="5" height="25" fill="#000"/>
<rect x="1275" y="158" width="1" height="69" fill="#000"/>
<rect x="1273" y="159" width="5" height="42" fill="#000"/>
<rect x="1274" y="160" width="3" height="40" fill="#fff"/>
<rect x="1283" y="156" width="1" height="38" fill="#000"/>
<rect x="1281" y="161" width="5" height="9" fill="#000"/>
<rect x="1291" y="168" width="1" height="57" fill="#000"/>
<rect x="1289" y="172" width="5" height="46" fill="#000"/>
<rect x="1299" y="207" width="1" height="12" fill="#000"/>
<rect x="1297" y="209" width="5" height="1" fill="#000"/>
<rect x="1307" y="182" width="1" height="46" fill="#000"/>
<rect x="1305" y="196" width="5" height="12" fill="#000"/>
<rect x="1306" y="197" width="3" height="10" fill="#fff"/>
<rect x="1315" y="153" width="1" height="75" fill="#000"/>
<rect x="1313" y="194" width="5" height="21" fill="#000"/>
<rect x="1323" y="202" width="1" height="103" fill="#000"/>
<rect x="1321" y="213" width="5" height="71" fill="#000"/>
<rect x="1331" y="277" width="1" height="76" fill="#000"/>
<rect x="1329" y="285" width="5" height="12" fill="#000"/>
<rect x="1339" y="250" width="1" height="58" fill="#000"/>
<rect x="1337" y="252" width="5" height="43" fill="#000"/>
<rect x="1338" y="253" width="3" height="41" fill="#fff"/>
</g>
<g id="macd" clip-path="url(#c2)">
<rect x="11" y="680" width="1" height="4" fill="#c0c0c0"/>
<rect x="19" y="680" width="1" height="2" fill="#c0c0c0"/>
<rect x="27" y="680" width="1" height="2" fill="#c0c0c0"/>
<rect x="35" y="680" width="1" height="1" fill="#c0c0c0"/>
<rect x="51" y="674" width="1" height="7" fill="#c0c0c0"/>
<rect x="59" y="665" width="1" height="16" fill="#c0c0c0"/>
<rect x="67" y="662" width="1" height="19" fill="#c0c0c0"/>
<rect x="75" y="656" width="1" height="25" fill="#c0c0c0"/>
<rect x="83" y="651" width="1" height="30" fill="#c0c0c0"/>
<rect x="91" y="646" width="1" height="35" fill="#c0c0c0"/>
<rect x="99" y="640" width="1" height="41" fill="#c0c0c0"/>
<rect x="107" y="640" width="1" height="41" fill="#c0c0c0"/>
<rect x="115" y="644" width="1" height="37" fill="#c0c0c0"/>
<rect x="123" y="646" width="1" height="35" fill="#c0c0c0"/>
<rect x="131" y="645" width="1" height="36" fill="#c0c0c0"/>
<rect x="139" y="639" width="1" height="42" fill="#c0c0c0"/>
<rect x="147" y="634" width="1" height="47" fill="#c0c0c0"/>
<rect x="155" y="630" width="1" height="51" fill="#c0c0c0"/>
<rect x="163" y="624" width="1" height="57" fill="#c0c0c0"/>
<rect x="171" y="620" width="1" height="61" fill="#c0c0c0"/>
<rect x="179" y="619" width="1" height="62" fill="#c0c0c0"/>
<rect x="187" y="619" width="1" height="62" fill="#c0c0c0"/>
<rect x="195" y="620" width="1" height="61" fill="#c0c0c0"/>
<rect x="203" y="621" width="1" height="60" fill="#c0c0c0"/>
<rect x="211" y="619" width="1" height="62" fill="#c0c0c0"/>
<rect x="219" y="622" width="1" height="59" fill="#c0c0c0"/>
<rect x="227" y="626" width="1" height="55" fill="#c0c0c0"/>
<rect x="235" y="626" width="1" height="55" fill="#c0c0c0"/>
<rect x="243" y="626" width="1" height="55" fill="#c0c0c0"/>
<rect x="251" y="626" width="1" height="55" fill="#c0c0c0"/>
<rect x="259" y="627" width="1" height="54" fill="#c0c0c0"/>
<rect x="267" y="632" width="1" height="49" fill="#c0c0c0"/>
<rect x="275" y="635" width="1" height="46" fill="#c0c0c0"/>
<rect x="283" y="633" width="1" height="48" fill="#c0c0c0"/>
<rect x="291" y="642" width="1" height="39" fill="#c0c0c0"/>
<rect x="299" y="647" width="1" height="34" fill="#c0c0c0"/>
<rect x="307" y="663" width="1" height="18" fill="#c0c0c0"/>
<rect x="315" y="678" width="1" height="3" fill="#c0c0c0"/>
<rect x="323" y="680" width="1" height="10" fill="#c0c0c0"/>
<rect x="331" y="680" width="1" height="18" fill="#c0c0c0"/>
<rect x="339" y="680" width="1" height="32" fill="#c0c0c0"/>
<rect x="347" y="680" width="1" height="50" fill="#c0c0c0"/>
<rect x="355" y="680" width="1" height="56" fill="#c0c0c0"/>
<rect x="363" y="680" width="1" height="60" fill="#c0c0c0"/>
<rect x="371" y="680" width="1" height="60" fill="#c0c0c0"/>
<rect x="379" y="680" width="1" height="60" fill="#c0c0c0"/>
<rect x="387" y="680" width="1" height="58" fill="#c0c0c0"/>
<rect x="395" y="680" width="1" height="58" fill="#c0c0c0"/>
<rect x="403" y="680" width="1" height="53" fill="#c0c0c0"/>
<rect x="411" y="680" width="1" height="53" fill="#c0c0c0"/>
<rect x="419" y="680" width="1" height="58" fill="#c0c0c0"/>
<rect x="427" y="680" width="1" height="57" fill="#c0c0c0"/>
<rect x="435" y="680" width="1" height="54" fill="#c0c0c0"/>
<rect x="443" y="680" width="1" height="51" fill="#c0c0c0"/>
<rect x="451" y="680" width="1" height="51" fill="#c0c0c0"/>
<rect x="459" y="680" width="1" height="54" fill="#c0c0c0"/>
<rect x="467" y="680" width="1" height="58" fill="#c0c0c0"/>
<rect x="475" y="680" width="1" height="67" fill="#c0c0c0"/>
<rect x="483" y="680" width="1" height="76" fill="#c0c0c0"/>
<rect x="491" y="680" width="1" height="80" fill="#c0c0c0"/>
<rect x="499" y="680" width="1" height="76" fill="#c0c0c0"/>
<rect x="507" y="680" width="1" height="71" fill="#c0c0c0"/>
<rect x="515" y="680" width="1" height="64" fill="#c0c0c0"/>
<rect x="523" y="680" width="1" height="55" fill="#c0c0c0"/>
<rect x="531" y="680" width="1" height="45" fill="#c0c0c0"/>
<rect x="539" y="680" width="1" height="38" fill="#c0c0c0"/>
<rect x="547" y="680" width="1" height="31" fill="#c0c0c0"/>
<rect x="555" y="680" width="1" height="28" fill="#c0c0c0"/>
<rect x="563" y="680" width="1" height="25" fill="#c0c0c0"/>
<rect x="571" y="680" width="1" height="23" fill="#c0c0c0"/>
<rect x="579" y="680" width="1" height="20" fill="#c0c0c0"/>
<rect x="587" y="680" width="1" height="17" fill="#c0c0c0"/>
<rect x="595" y="680" width="1" height="11" fill="#c0c0c0"/>
<rect x="603" y="680" width="1" height="3" fill="#c0c0c0"/>
<rect x="611" y="675" width="1" height="6" fill="#c0c0c0"/>
<rect x="619" y="675" width="1" height="6" fill="#c0c0c0"/>
<rect x="627" y="674" width="1" height="7" fill="#c0c0c0"/>
<rect x="635" y="674" width="1" height="7" fill="#c0c0c0"/>
<rect x="643" y="677" width="1" height="4" fill="#c0c0c0"/>
<rect x="651" y="677" width="1" height="4" fill="#c0c0c0"/>
<rect x="659" y="675" width="1" height="6" fill="#c0c0c0"/>
<rect x="667" y="672" width="1" height="9" fill="#c0c0c0"/>
<rect x="675" y="663" width="1" height="18" fill="#c0c0c0"/>
<rect x="683" y="655" width="1" height="26" fill="#c0c0c0"/>
<rect x="691" y="650" width="1" height="31" fill="#c0c0c0"/>
<rect x="699" y="645" width="1" height="36" fill="#c0c0c0"/>
<rect x="707" y="642" width="1" height="39" fill="#c0c0c0"/>
<rect x="715" y="641" width="1" height="40" fill="#c0c0c0"/>
<rect x="723" y="641" width="1" height="40" fill="#c0c0c0"/>
<rect x="731" y="642" width="1" height="39" fill="#c0c0c0"/>
<rect x="739" y="645" width="1" height="36" fill="#c0c0c0"/>
<rect x="747" y="648" width="1" height="33" fill="#c0c0c0"/>
<rect x="755" y="647" width="1" height="34" fill="#c0c0c0"/>
<rect x="763" y="649" width="1" height="32" fill="#c0c0c0"/>
<rect x="771" y="651" width="1" height="30" fill="#c0c0c0"/>
<rect x="779" y="652" width="1" height="29" fill="#c0c0c0"/>
<rect x="787" y="656" width="1" height="25" fill="#c0c0c0"/>
<rect x="795" y="662" width="1" height="19" fill="#c0c0c0"/>
<rect x="803" y="672" width="1" height="9" fill="#c0c0c0"/>
<rect x="811" y="676" width="1" height="5" fill="#c0c0c0"/>
<rect x="819" y="677" width="1" height="4" fill="#c0c0c0"/>
<rect x="827" y="678" width="1" height="3" fill="#c0c0c0"/>
<rect x="835" y="672" width="1" height="9" fill="#c0c0c0"/>
<rect x="843" y="666" width="1" height="15" fill="#c0c0c0"/>
<rect x="851" y="664" width="1" height="17" fill="#c0c0c0"/>
<rect x="859" y="662" width="1" height="19" fill="#c0c0c0"/>
<rect x="867" y="662" width="1" height="19" fill="#c0c0c0"/>
<rect x="875" y="662" width="1" height="19" fill="#c0c0c0"/>
<rect x="883" y="664" width="1" height="17" fill="#c0c0c0"/>
<rect x="891" y="670" width="1" height="11" fill="#c0c0c0"/>
<rect x="907" y="680" width="1" height="12" fill="#c0c0c0"/>
<rect x="915" y="680" width="1" height="21" fill="#c0c0c0"/>
<rect x="923" y="680" width="1" height="46" fill="#c0c0c0"/>
<rect x="931" y="680" width="1" height="54" fill="#c0c0c0"/>
<rect x="939" y="680" width="1" height="61" fill="#c0c0c0"/>
<rect x="947" y="680" width="1" height="60" fill="#c0c0c0"/>
<rect x="955" y="680" width="1" height="64" fill="#c0c0c0"/>
<rect x="963" y="680" width="1" height="69" fill="#c0c0c0"/>
<rect x="971" y="680" width="1" height="72" fill="#c0c0c0"/>
<rect x="979" y="680" width="1" height="67" fill="#c0c0c0"/>
<rect x="987" y="680" width="1" height="72" fill="#c0c0c0"/>
<rect x="995" y="680" width="1" height="74" fill="#c0c0c0"/>
<rect x="1003" y="680" width="1" height="69" fill="#c0c0c0"/>
<rect x="1011" y="680" width="1" height="63" fill="#c0c0c0"/>
<rect x="1019" y="680" width="1" height="58" fill="#c0c0c0"/>
<rect x="1027" y="680" width="1" height="56" fill="#c0c0c0"/>
<rect x="1035" y="680" width="1" height="49" fill="#c0c0c0"/>
<rect x="1043" y="680" width="1" height="45" fill="#c0c0c0"/>
<rect x="1051" y="680" width="1" height="50" fill="#c0c0c0"/>
<rect x="1059" y="680" width="1" height="55" fill="#c0c0c0"/>
<rect x="1067" y="680" width="1" height="51" fill="#c0c0c0"/>
<rect x="1075" y="680" width="1" height="48" fill="#c0c0c0"/>
<rect x="1083" y="680" width="1" height="44" fill="#c0c0c0"/>
<rect x="1091" y="680" width="1" height="36" fill="#c0c0c0"/>
<rect x="1099" y="680" width="1" height="30" fill="#c0c0c0"/>
<rect x="1107" y="680" width="1" height="26" fill="#c0c0c0"/>
<rect x="1115" y="680" width="1" height="24" fill="#c0c0c0"/>
<rect x="1123" y="680" width="1" height="21" fill="#c0c0c0"/>
<rect x="1131" y="680" width="1" height="14" fill="#c0c0c0"/>
<rect x="1147" y="669" width="1" height="12" fill="#c0c0c0"/>
<rect x="1155" y="661" width="1" height="20" fill="#c0c0c0"/>
<rect x="1163" y="651" width="1" height="30" fill="#c0c0c0"/>
<rect x="1171" y="645" width="1" height="36" fill="#c0c0c0"/>
<rect x="1179" y="634" width="1" height="47" fill="#c0c0c0"/>
<rect x="1187" y="624" width="1" height="57" fill="#c0c0c0"/>
<rect x="1195" y="614" width="1" height="67" fill="#c0c0c0"/>
<rect x="1203" y="610" width="1" height="71" fill="#c0c0c0"/>
<rect x="1211" y="607" width="1" height="74" fill="#c0c0c0"/>
<rect x="1219" y="603" width="1" height="78" fill="#c0c0c0"/>
<rect x="1227" y="600" width="1" height="81" fill="#c0c0c0"/>
<rect x="1235" y="597" width="1" height="84" fill="#c0c0c0"/>
<rect x="1243" y="599" width="1" height="82" fill="#c0c0c0"/>
<rect x="1251" y="599" width="1" height="82" fill="#c0c0c0"/>
<rect x="1259" y="601" width="1" height="80" fill="#c0c0c0"/>
<rect x="1267" y="605" width="1" height="76" fill="#c0c0c0"/>
<rect x="1275" y="605" width="1" height="76" fill="#c0c0c0"/>
<rect x="1283" y="607" width="1" height="74" fill="#c0c0c0"/>
<rect x="1291" y="614" width="1" height="67" fill="#c0c0c0"/>
<rect x="1299" y="619" width="1" height="62" fill="#c0c0c0"/>
<rect x="1307" y="623" width="1" height="58" fill="#c0c0c0"/>
<rect x="1315" y="629" width="1" height="52" fill="#c0c0c0"/>
<rect x="1323" y="640" width="1" height="41" fill="#c0c0c0"/>
<rect x="1331" y="652" width="1" height="29" fill="#c0c0c0"/>
<rect x="1339" y="656" width="1" height="25" fill="#c0c0c0"/>
</g>
<polyline points="3.5,670.1 11.5,671.4 19.5,672.6 27.5,674.1 35.5,676.6 43.5,677.9 51.5,678.4 59.5,678.4 67.5,675.9 75.5,674.6 83.5,671.2 91.5,667.2 99.5,662.6 107.5,658.1 115.5,654.1 123.5,651.0 131.5,648.8 139.5,646.2 147.5,643.8 155.5,641.4 163.5,639.0 171.5,636.8 179.5,634.4 187.5,631.7 195.5,628.8 203.5,626.1 211.5,623.9 219.5,622.6 227.5,622.1 235.5,622.3 243.5,623.0 251.5,623.8 259.5,624.7 267.5,626.0 275.5,627.6 283.5,629.1 291.5,631.3 299.5,633.7 307.5,637.8 315.5,643.6 323.5,650.6 331.5,658.6 339.5,667.4 347.5,677.9 355.5,689.4 363.5,700.2 371.5,710.5 379.5,719.1 387.5,725.7 395.5,731.0 403.5,734.9 411.5,737.3 419.5,738.2 427.5,738.2 435.5,737.6 443.5,736.6 451.5,735.6 459.5,735.1 467.5,735.1 475.5,736.7 483.5,739.2 491.5,741.7 499.5,743.8 507.5,745.7 515.5,747.2 523.5,747.6 531.5,746.7 539.5,744.4 547.5,740.5 555.5,735.1 563.5,729.1 571.5,723.2 579.5,717.5 587.5,712.3 595.5,707.4 603.5,702.7 611.5,698.0 619.5,693.9 627.5,690.2 635.5,686.7 643.5,683.8 651.5,681.3 659.5,678.9 667.5,676.9 675.5,674.7 683.5,672.4 691.5,669.7 699.5,666.4 707.5,662.8 715.5,658.8 723.5,654.8 731.5,651.1 739.5,648.1 747.5,646.5 755.5,645.6 763.5,645.4 771.5,646.1 779.5,647.2 787.5,648.8 795.5,651.2 803.5,654.5 811.5,657.8 819.5,661.1 827.5,664.5 835.5,667.1 843.5,668.8 851.5,670.1 859.5,670.9 867.5,670.8 875.5,669.7 883.5,668.4 891.5,667.7 899.5,667.9 907.5,670.2 915.5,674.1 923.5,681.0 931.5,689.0 939.5,697.7 947.5,706.4 955.5,715.3 963.5,724.0 971.5,732.0 979.5,738.1 987.5,743.8 995.5,746.9 1003.5,748.5 1011.5,748.8 1019.5,748.6 1027.5,747.8 1035.5,745.6 1043.5,742.6 1051.5,740.8 1059.5,738.8 1067.5,736.3 1075.5,733.9 1083.5,731.7 1091.5,729.3 1099.5,726.4 1107.5,723.8 1115.5,721.4 1123.5,718.2 1131.5,713.6 1139.5,708.0 1147.5,701.5 1155.5,694.5 1163.5,687.2 1171.5,680.0 1179.5,672.0 1187.5,663.2 1195.5,653.5 1203.5,644.1 1211.5,635.9 1219.5,628.5 1227.5,621.8 1235.5,615.8 1243.5,610.7 1251.5,606.8 1259.5,604.2 1267.5,603.2 1275.5,602.7 1283.5,602.7 1291.5,603.9 1299.5,606.1 1307.5,609.0 1315.5,612.3 1323.5,616.8 1331.5,622.5 1339.5,628.2" fill="none" stroke="#ff0000" stroke-width="1" stroke-dasharray="3 3" clip-path="url(#c2)"/>
<line x1="3" x2="1631" y1="804.5" y2="804.5" stroke="#c0c0c0" stroke-width="1" stroke-dasharray="3 3"/>
<line x1="3" x2="1631" y1="851.5" y2="851.5" stroke="#c0c0c0" stroke-width="1" stroke-dasharray="3 3"/>
<line x1="3" x2="1631" y1="907.5" y2="907.5" stroke="#c0c0c0" stroke-width="1" stroke-dasharray="3 3"/>
<polyline points="3.5,862.1 11.5,863.6 19.5,846.4 27.5,853.7 35.5,851.0 43.5,849.1 51.5,837.5 59.5,832.3 67.5,841.3 75.5,835.4 83.5,834.4 91.5,831.0 99.5,829.1 107.5,837.3 115.5,847.4 123.5,842.8 131.5,837.3 139.5,829.6 147.5,828.1 155.5,827.1 163.5,823.5 171.5,822.0 179.5,825.8 187.5,828.1 195.5,828.3 203.5,826.4 211.5,822.0 219.5,834.0 227.5,836.5 235.5,828.5 243.5,827.3 251.5,826.3 259.5,825.0 267.5,842.1 275.5,837.6 283.5,828.1 291.5,854.5 299.5,850.0 307.5,870.3 315.5,873.5 323.5,876.5 331.5,870.9 339.5,879.7 347.5,888.4 355.5,872.5 363.5,871.5 371.5,866.8 379.5,867.8 387.5,864.8 395.5,867.6 403.5,859.7 411.5,866.4 419.5,874.0 427.5,864.8 435.5,862.9 443.5,861.2 451.5,866.8 459.5,871.6 467.5,874.7 475.5,883.3 483.5,885.4 491.5,880.2 499.5,865.7 507.5,864.9 515.5,860.2 523.5,853.1 531.5,850.0 539.5,851.3 547.5,851.5 555.5,855.3 563.5,856.6 571.5,855.6 579.5,853.9 587.5,852.5 595.5,843.2 603.5,836.5 611.5,833.5 619.5,848.9 627.5,849.7 635.5,849.4 643.5,856.2 651.5,852.3 659.5,845.2 667.5,841.6 675.5,827.4 683.5,826.4 691.5,826.7 699.5,825.4 707.5,828.2 715.5,829.4 723.5,831.6 731.5,835.9 739.5,842.5 747.5,840.6 755.5,832.9 763.5,839.4 771.5,841.9 779.5,838.3 787.5,850.6 795.5,860.9 803.5,870.8 811.5,859.7 819.5,854.3 827.5,852.1 835.5,835.4 843.5,833.2 851.5,840.3 859.5,840.6 867.5,842.7 875.5,841.3 883.5,851.1 891.5,861.6 899.5,873.0 907.5,880.5 915.5,880.2 923.5,899.7 931.5,875.2 939.5,875.3 947.5,866.2 955.5,872.6 963.5,874.7 971.5,875.3 979.5,862.3 987.5,874.3 995.5,870.7 1003.5,861.2 1011.5,860.1 1019.5,860.1 1027.5,863.9 1035.5,855.0 1043.5,858.1 1051.5,870.1 1059.5,872.1 1067.5,859.0 1075.5,859.0 1083.5,857.9 1091.5,851.3 1099.5,851.3 1107.5,853.8 1115.5,855.0 1123.5,854.7 1131.5,845.3 1139.5,831.3 1147.5,830.9 1155.5,831.6 1163.5,826.4 1171.5,831.3 1179.5,822.1 1187.5,819.5 1195.5,816.0 1203.5,826.1 1211.5,824.2 1219.5,822.1 1227.5,820.6 1235.5,818.7 1243.5,829.3 1251.5,825.9 1259.5,825.7 1267.5,832.8 1275.5,826.1 1283.5,829.2 1291.5,842.6 1299.5,841.0 1307.5,838.3 1315.5,843.4 1323.5,859.5 1331.5,862.1 1339.5,851.7" fill="none" stroke="#1e90ff" stroke-width="1" clip-path="url(#c3)"/>
<rect x="1632" y="53" width="2" height="1" fill="#000"/>
<text x="1637.2" y="57" font-size="9.8" fill="#000" text-anchor="start" textLength="32.5" lengthAdjust="spacingAndGlyphs">22504.0</text>
<rect x="1632" y="86" width="2" height="1" fill="#000"/>
<text x="1637.2" y="90" font-size="9.8" fill="#000" text-anchor="start" textLength="32.5" lengthAdjust="spacingAndGlyphs">22342.0</text>
<rect x="1632" y="119" width="2" height="1" fill="#000"/>
<text x="1637.2" y="123" font-size="9.8" fill="#000" text-anchor="start" textLength="32.5" lengthAdjust="spacingAndGlyphs">22180.0</text>
<rect x="1632" y="152" width="2" height="1" fill="#000"/>
<text x="1637.2" y="156" font-size="9.8" fill="#000" text-anchor="start" textLength="32.5" lengthAdjust="spacingAndGlyphs">22018.0</text>
<rect x="1632" y="186" width="2" height="1" fill="#000"/>
<text x="1637.2" y="190" font-size="9.8" fill="#000" text-anchor="start" textLength="32.5" lengthAdjust="spacingAndGlyphs">21851.5</text>
<rect x="1632" y="219" width="2" height="1" fill="#000"/>
<text x="1637.2" y="223" font-size="9.8" fill="#000" text-anchor="start" textLength="32.5" lengthAdjust="spacingAndGlyphs">21689.5</text>
<rect x="1632" y="252" width="2" height="1" fill="#000"/>
<text x="1637.2" y="256" font-size="9.8" fill="#000" text-anchor="start" textLength="32.5" lengthAdjust="spacingAndGlyphs">21527.5</text>
<rect x="1632" y="285" width="2" height="1" fill="#000"/>
<text x="1637.2" y="289" font-size="9.8" fill="#000" text-anchor="start" textLength="32.5" lengthAdjust="spacingAndGlyphs">21365.5</text>
<rect x="1632" y="317" width="2" height="1" fill="#000"/>
<text x="1637.2" y="321" font-size="9.8" fill="#000" text-anchor="start" textLength="32.5" lengthAdjust="spacingAndGlyphs">21203.5</text>
<rect x="1632" y="350" width="2" height="1" fill="#000"/>
<text x="1637.2" y="354" font-size="9.8" fill="#000" text-anchor="start" textLength="32.5" lengthAdjust="spacingAndGlyphs">21041.5</text>
<rect x="1632" y="383" width="2" height="1" fill="#000"/>
<text x="1637.2" y="387" font-size="9.8" fill="#000" text-anchor="start" textLength="32.5" lengthAdjust="spacingAndGlyphs">20879.5</text>
<rect x="1632" y="416" width="2" height="1" fill="#000"/>
<text x="1637.2" y="420" font-size="9.8" fill="#000" text-anchor="start" textLength="32.5" lengthAdjust="spacingAndGlyphs">20717.5</text>
<rect x="1632" y="449" width="2" height="1" fill="#000"/>
<text x="1637.2" y="453" font-size="9.8" fill="#000" text-anchor="start" textLength="32.5" lengthAdjust="spacingAndGlyphs">20555.5</text>
<rect x="1632" y="482" width="2" height="1" fill="#000"/>
<text x="1637.2" y="486" font-size="9.8" fill="#000" text-anchor="start" textLength="32.5" lengthAdjust="spacingAndGlyphs">20393.5</text>
<rect x="1632" y="515" width="2" height="1" fill="#000"/>
<text x="1637.2" y="519" font-size="9.8" fill="#000" text-anchor="start" textLength="32.5" lengthAdjust="spacingAndGlyphs">20231.5</text>
<rect x="1632" y="548" width="2" height="1" fill="#000"/>
<text x="1637.2" y="552" font-size="9.8" fill="#000" text-anchor="start" textLength="32.5" lengthAdjust="spacingAndGlyphs">20069.5</text>
<rect x="1632" y="581" width="2" height="1" fill="#000"/>
<text x="1637.2" y="585" font-size="9.8" fill="#000" text-anchor="start" textLength="32.5" lengthAdjust="spacingAndGlyphs">19907.5</text>
<rect x="1633" y="198" width="41" height="11" fill="#ff0000"/>
<text x="1637.2" y="207.3" font-size="9.8" fill="#fff" text-anchor="start" textLength="32.5" lengthAdjust="spacingAndGlyphs">21759.6</text>
<rect x="1633" y="223" width="41" height="11" fill="#ff0000"/>
<text x="1637.2" y="232.3" font-size="9.8" fill="#fff" text-anchor="start" textLength="32.5" lengthAdjust="spacingAndGlyphs">21636.8</text>
<rect x="1633" y="247" width="41" height="11" fill="#000"/>
<text x="1637.2" y="256.3" font-size="9.8" fill="#fff" text-anchor="start" textLength="32.5" lengthAdjust="spacingAndGlyphs">21522.5</text>
<rect x="1633" y="263" width="41" height="11" fill="#32cd32"/>
<text x="1637.2" y="272.3" font-size="9.8" fill="#fff" text-anchor="start" textLength="32.5" lengthAdjust="spacingAndGlyphs">21440.5</text>
<rect x="1633" y="283" width="41" height="11" fill="#0000ff"/>
<text x="1637.2" y="292.3" font-size="9.8" fill="#fff" text-anchor="start" textLength="32.5" lengthAdjust="spacingAndGlyphs">21342.3</text>
<rect x="1633" y="303" width="41" height="11" fill="#0000ff"/>
<text x="1637.2" y="312.3" font-size="9.8" fill="#fff" text-anchor="start" textLength="32.5" lengthAdjust="spacingAndGlyphs">21244.1</text>
<rect x="1632" y="588" width="2" height="1" fill="#000"/>
<rect x="1632" y="768" width="2" height="1" fill="#000"/>
<rect x="1632" y="773" width="2" height="1" fill="#000"/>
<rect x="1632" y="930" width="2" height="1" fill="#000"/>
<text x="1635" y="597" font-size="9.8" fill="#000" text-anchor="start" textLength="27.5" lengthAdjust="spacingAndGlyphs">351.29</text>
<text x="1635" y="684" font-size="9.8" fill="#000" text-anchor="start" textLength="17.5" lengthAdjust="spacingAndGlyphs">0.00</text>
<text x="1635" y="766" font-size="9.8" fill="#000" text-anchor="start" textLength="30.5" lengthAdjust="spacingAndGlyphs">-338.69</text>
<rect x="1632" y="680" width="2" height="1" fill="#000"/>
<text x="1635" y="782" font-size="9.8" fill="#000" text-anchor="start" textLength="15.0" lengthAdjust="spacingAndGlyphs">100</text>
<text x="1635" y="808" font-size="9.8" fill="#000" text-anchor="start" textLength="10.0" lengthAdjust="spacingAndGlyphs">80</text>
<text x="1635" y="855" font-size="9.8" fill="#000" text-anchor="start" textLength="10.0" lengthAdjust="spacingAndGlyphs">50</text>
<text x="1635" y="911" font-size="9.8" fill="#000" text-anchor="start" textLength="10.0" lengthAdjust="spacingAndGlyphs">15</text>
<text x="1635" y="928" font-size="9.8" fill="#000" text-anchor="start" textLength="5.0" lengthAdjust="spacingAndGlyphs">0</text>
<text x="18" y="43.2" font-size="9.8" fill="#000" text-anchor="start" textLength="59.5" lengthAdjust="spacingAndGlyphs">JPN225-,Daily</text>
<text x="84" y="43.2" font-size="9.8" fill="#000" text-anchor="start" textLength="32.5" lengthAdjust="spacingAndGlyphs">21317.5</text>
<text x="120.4" y="43.2" font-size="9.8" fill="#000" text-anchor="start" textLength="32.5" lengthAdjust="spacingAndGlyphs">21532.5</text>
<text x="156.4" y="43.2" font-size="9.8" fill="#000" text-anchor="start" textLength="32.5" lengthAdjust="spacingAndGlyphs">21252.5</text>
<text x="192.5" y="43.2" font-size="9.8" fill="#000" text-anchor="start" textLength="32.5" lengthAdjust="spacingAndGlyphs">21522.5</text>
<path d="M6 42 L9.5 38 L13 42 Z" fill="#000" shape-rendering="auto"/>
<text x="7.4" y="599.2" font-size="9.8" fill="#000" text-anchor="start" textLength="122.7" lengthAdjust="spacingAndGlyphs">MACD(12,26,9) 91.87 203.34</text>
<text x="7.4" y="784.2" font-size="9.8" fill="#000" text-anchor="start" textLength="67.0" lengthAdjust="spacingAndGlyphs">RSI(14) 50.0457</text>
<rect x="3" y="932" width="1" height="3" fill="#000"/>
<text x="2.5" y="944.2" font-size="9.8" fill="#000" text-anchor="start" textLength="51.5" lengthAdjust="spacingAndGlyphs">24 Mar 2019</text>
<rect x="67" y="932" width="1" height="3" fill="#000"/>
<text x="66.5" y="944.2" font-size="9.8" fill="#000" text-anchor="start" textLength="44.8" lengthAdjust="spacingAndGlyphs">2 Apr 2019</text>
<rect x="131" y="932" width="1" height="3" fill="#000"/>
<text x="130.5" y="944.2" font-size="9.8" fill="#000" text-anchor="start" textLength="49.3" lengthAdjust="spacingAndGlyphs">11 Apr 2019</text>
<rect x="195" y="932" width="1" height="3" fill="#000"/>
<text x="194.5" y="944.2" font-size="9.8" fill="#000" text-anchor="start" textLength="50.0" lengthAdjust="spacingAndGlyphs">21 Apr 2019</text>
<rect x="259" y="932" width="1" height="3" fill="#000"/>
<text x="258.5" y="944.2" font-size="9.8" fill="#000" text-anchor="start" textLength="50.0" lengthAdjust="spacingAndGlyphs">30 Apr 2019</text>
<rect x="323" y="932" width="1" height="3" fill="#000"/>
<text x="322.5" y="944.2" font-size="9.8" fill="#000" text-anchor="start" textLength="48.4" lengthAdjust="spacingAndGlyphs">9 May 2019</text>
<rect x="387" y="932" width="1" height="3" fill="#000"/>
<text x="386.5" y="944.2" font-size="9.8" fill="#000" text-anchor="start" textLength="53.6" lengthAdjust="spacingAndGlyphs">19 May 2019</text>
<rect x="451" y="932" width="1" height="3" fill="#000"/>
<text x="450.5" y="944.2" font-size="9.8" fill="#000" text-anchor="start" textLength="53.6" lengthAdjust="spacingAndGlyphs">28 May 2019</text>
<rect x="515" y="932" width="1" height="3" fill="#000"/>
<text x="514.5" y="944.2" font-size="9.8" fill="#000" text-anchor="start" textLength="45.9" lengthAdjust="spacingAndGlyphs">6 Jun 2019</text>
<rect x="579" y="932" width="1" height="3" fill="#000"/>
<text x="578.5" y="944.2" font-size="9.8" fill="#000" text-anchor="start" textLength="51.0" lengthAdjust="spacingAndGlyphs">16 Jun 2019</text>
<rect x="643" y="932" width="1" height="3" fill="#000"/>
<text x="642.5" y="944.2" font-size="9.8" fill="#000" text-anchor="start" textLength="51.0" lengthAdjust="spacingAndGlyphs">25 Jun 2019</text>
<rect x="707" y="932" width="1" height="3" fill="#000"/>
<text x="706.5" y="944.2" font-size="9.8" fill="#000" text-anchor="start" textLength="42.8" lengthAdjust="spacingAndGlyphs">4 Jul 2019</text>
<rect x="771" y="932" width="1" height="3" fill="#000"/>
<text x="770.5" y="944.2" font-size="9.8" fill="#000" text-anchor="start" textLength="47.9" lengthAdjust="spacingAndGlyphs">14 Jul 2019</text>
<rect x="835" y="932" width="1" height="3" fill="#000"/>
<text x="834.5" y="944.2" font-size="9.8" fill="#000" text-anchor="start" textLength="47.9" lengthAdjust="spacingAndGlyphs">23 Jul 2019</text>
<rect x="899" y="932" width="1" height="3" fill="#000"/>
<text x="898.5" y="944.2" font-size="9.8" fill="#000" text-anchor="start" textLength="46.9" lengthAdjust="spacingAndGlyphs">1 Aug 2019</text>
<rect x="963" y="932" width="1" height="3" fill="#000"/>
<text x="962.5" y="944.2" font-size="9.8" fill="#000" text-anchor="start" textLength="51.4" lengthAdjust="spacingAndGlyphs">11 Aug 2019</text>
<rect x="1027" y="932" width="1" height="3" fill="#000"/>
<text x="1026.5" y="944.2" font-size="9.8" fill="#000" text-anchor="start" textLength="52.1" lengthAdjust="spacingAndGlyphs">20 Aug 2019</text>
<rect x="1091" y="932" width="1" height="3" fill="#000"/>
<text x="1090.5" y="944.2" font-size="9.8" fill="#000" text-anchor="start" textLength="52.1" lengthAdjust="spacingAndGlyphs">29 Aug 2019</text>
<rect x="1155" y="932" width="1" height="3" fill="#000"/>
<text x="1154.5" y="944.2" font-size="9.8" fill="#000" text-anchor="start" textLength="47.4" lengthAdjust="spacingAndGlyphs">8 Sep 2019</text>
<rect x="1219" y="932" width="1" height="3" fill="#000"/>
<text x="1218.5" y="944.2" font-size="9.8" fill="#000" text-anchor="start" textLength="52.6" lengthAdjust="spacingAndGlyphs">17 Sep 2019</text>
<rect x="1283" y="932" width="1" height="3" fill="#000"/>
<text x="1282.5" y="944.2" font-size="9.8" fill="#000" text-anchor="start" textLength="52.6" lengthAdjust="spacingAndGlyphs">26 Sep 2019</text>
<rect x="1348" y="32" width="9" height="1" fill="#c0c0c0"/>
<rect x="1349" y="33" width="7" height="1" fill="#c0c0c0"/>
<rect x="1350" y="34" width="5" height="1" fill="#c0c0c0"/>
<rect x="1351" y="35" width="3" height="1" fill="#c0c0c0"/>
<rect x="1352" y="36" width="1" height="1" fill="#c0c0c0"/>
<rect x="1492" y="269" width="10" height="1" fill="#ff0000"/>
<rect x="1502.5" y="253.5" width="99" height="32" fill="#fff" stroke="#ff0000" stroke-width="1"/>
<text x="1504" y="279.8" font-size="28" fill="#ff0000" text-anchor="start" textLength="96" lengthAdjust="spacingAndGlyphs">21440.5</text>
<text x="1405.5" y="362" font-size="32" font-weight="600" letter-spacing="0.3" fill="#00ff00" style="font-family:'Liberation Serif','Noto Serif CJK SC',serif;text-shadow:1px 1px 0 #222">多空转折点</text></svg>
<div id="edge-r"></div><div id="edge-b"></div>
<div id="tb"><div class="l0"></div><div class="l1"></div><div class="l27"></div><div class="l28"></div>
<span class="t" style="left:21px">新订单</span>
<span class="t" style="left:173.5px;letter-spacing:-0.4px">自动交易</span>
<div class="bsep" style="left:228px"></div><div class="grip" style="left:232px"></div>
<div class="pr" style="left:266px"></div>
<div class="sep" style="left:323px"></div>
<div class="sep" style="left:413px"></div>
<div class="pr" style="left:418px"></div><div class="pr" style="left:446px"></div>
<div class="sep" style="left:475px"></div>
<div class="dd" style="left:507px"></div><div class="dd" style="left:546px"></div><div class="dd" style="left:585px"></div>
<div class="bsep" style="left:596px"></div><div class="grip" style="left:600px"></div>
<div class="pr" style="left:606px"></div>
<div class="sep" style="left:663px"></div>
<div class="dd" style="left:891px"></div>
<div class="bsep" style="left:902px"></div><div class="grip" style="left:906px"></div>
<span class="tf" style="left:917.5px">M1</span><span class="tf" style="left:945.8px">M5</span><span class="tf" style="left:972px">M15</span><span class="tf" style="left:999.5px">M30</span><span class="tf" style="left:1030.6px">H1</span><span class="tf" style="left:1057.8px">H4</span>
<div class="pr" style="left:1080px"></div><span class="tf" style="left:1086.4px">D1</span>
<span class="tf" style="left:1114px">W1</span><span class="tf" style="left:1140.7px">MN</span>
<div class="sep" style="left:1163px;top:2px;height:25px"></div>
<svg style="left:2px;top:7px" width="17" height="18" viewBox="0 0 17 18"><path d="M0.5 0.5 H8 L11.5 4 V13.5 H0.5 Z" fill="#fff" stroke="#707070"/><path d="M8 0.5 V4 H11.5" fill="#e8e8e8" stroke="#707070"/><path d="M2.5 3.5 H6 M2.5 6.5 H9 M2.5 8.5 H9 M2.5 10.5 H6" stroke="#909090"/><path d="M8.5 6.5 H11.5 V9.5 H15.5 V13 H11.5 V17 H8.5 V13 H4.5 V9.5 H8.5 Z" fill="#22cc22" stroke="#0a8a0a"/></svg>
<svg style="left:69px;top:8px" width="16" height="15" viewBox="0 0 16 15"><path d="M5 0.5 L15.5 7 L8 14.5 L0.5 9.5 Z" fill="#e8b820" stroke="#a87808"/><path d="M5.5 2 L13.5 7 L8 12.5 L2 8.8 Z" fill="#f8d848"/><path d="M0.8 9.8 L8 14.5 L15.3 7.3" fill="none" stroke="#c89818" stroke-width="1.6"/></svg>
<svg style="left:97px;top:7px" width="17" height="16" viewBox="0 0 17 16"><path d="M2.5 1.5 L5 0.5 H11.5 V9 H2.5 Z" fill="#2898f0" stroke="#1068c0"/><path d="M5 3 H10.5 M5 5 H10.5" stroke="#c8e8ff"/><path d="M3.5 15.5 H13.5 A2.5 2.5 0 0 0 13.2 10.6 A3 3 0 0 0 8 9.5 A2.6 2.6 0 0 0 4 11 A2.3 2.3 0 0 0 3.5 15.5 Z" fill="#e8f0fc" stroke="#6088c8"/></svg>
<svg style="left:125px;top:7px" width="16" height="16" viewBox="0 0 16 16"><circle cx="8" cy="8" r="7" fill="none" stroke="#88a8e0" stroke-width="1.4" opacity="0.8"/><circle cx="8" cy="8" r="4.2" fill="none" stroke="#5080d0" stroke-width="1.4"/><path d="M8 8 L8 15.8 A7.8 7.8 0 0 0 15.6 9.5 Z" fill="#58b058" opacity="0.85"/><circle cx="8" cy="7.5" r="1.8" fill="#2858c8"/><path d="M8 8 V15.5" stroke="#18a018" stroke-width="1.3"/></svg>
<svg style="left:152px;top:7px" width="17" height="16" viewBox="0 0 17 16"><path d="M1.5 7 L7 15 L15 8.5 Z" fill="#f8d040" stroke="#d0a010"/><ellipse cx="8" cy="5.5" rx="7.5" ry="2.8" fill="#58a8e0" stroke="#2878b8"/><path d="M4 5 A4 4 0 0 1 12 5 Z" fill="#78c0f0" stroke="#2878b8"/><circle cx="12" cy="12" r="4" fill="#e02010"/><rect x="10.5" y="10.5" width="3" height="3" fill="#fff"/></svg>
<svg style="left:244px;top:9px" width="15" height="15" viewBox="0 0 15 15"><path d="M2.5 1 V14.5 M0 12.5 H13" stroke="#505050" stroke-width="1.2" fill="none"/><path d="M2.5 0 L0.8 2.5 H4.2 Z M14.5 12.5 L12 10.8 V14.2 Z" fill="#505050"/><path d="M8.5 3 V10 M8.5 3.5 H11 M6.5 9.5 H8.5" stroke="#0a8a0a" stroke-width="1.3" fill="none"/></svg>
<svg style="left:272px;top:9px" width="15" height="15" viewBox="0 0 15 15"><path d="M2.5 1 V14.5 M0 12.5 H13" stroke="#505050" stroke-width="1.2" fill="none"/><path d="M2.5 0 L0.8 2.5 H4.2 Z M14.5 12.5 L12 10.8 V14.2 Z" fill="#505050"/><path d="M8.5 0 V11" stroke="#0a8a0a" stroke-width="1.2"/><rect x="6.5" y="2.5" width="4" height="6.5" fill="#30d030" stroke="#0a8a0a"/></svg>
<svg style="left:300px;top:9px" width="15" height="15" viewBox="0 0 15 15"><path d="M2.5 1 V14.5 M0 12.5 H13" stroke="#505050" stroke-width="1.2" fill="none"/><path d="M2.5 0 L0.8 2.5 H4.2 Z M14.5 12.5 L12 10.8 V14.2 Z" fill="#505050"/><path d="M1.5 9 C5 6 6 3 8 3.5 S11 7 13 7" stroke="#2a9a2a" stroke-width="1.3" fill="none"/></svg>
<svg style="left:332px;top:7px" width="16" height="16" viewBox="0 0 16 16"><path d="M9.5 9.5 L15 15" stroke="#c89818" stroke-width="3" stroke-linecap="round"/><path d="M10.5 10.5 L14.5 14.5" stroke="#f8d848" stroke-width="1.2"/><circle cx="6" cy="6" r="5.3" fill="#d8ecfc" stroke="#3878c8" stroke-width="1.4"/><path d="M3 6 H9 M6 3 V9" stroke="#2868a8" stroke-width="1.8"/></svg>
<svg style="left:360px;top:7px" width="16" height="16" viewBox="0 0 16 16"><path d="M9.5 9.5 L15 15" stroke="#c89818" stroke-width="3" stroke-linecap="round"/><path d="M10.5 10.5 L14.5 14.5" stroke="#f8d848" stroke-width="1.2"/><circle cx="6" cy="6" r="5.3" fill="#d8ecfc" stroke="#3878c8" stroke-width="1.4"/><path d="M3 6 H9" stroke="#2868a8" stroke-width="1.8"/></svg>
<svg style="left:388px;top:7px" width="16" height="16" viewBox="0 0 16 16"><rect x="0" y="0" width="8" height="8" fill="#3a9a1a"/><rect x="1.2" y="3" width="5.6" height="4" fill="#fff"/><rect x="2.2" y="4.2" width="3.6" height="1" fill="#a8e088"/><rect x="8" y="0" width="8" height="8" fill="#2050d0"/><rect x="9.2" y="3" width="5.6" height="4" fill="#fff"/><rect x="10.2" y="4.2" width="3.6" height="1" fill="#a8c0f8"/><rect x="0" y="8" width="8" height="8" fill="#2050d0"/><rect x="1.2" y="11" width="5.6" height="4" fill="#fff"/><rect x="2.2" y="12.2" width="3.6" height="1" fill="#a8c0f8"/><rect x="8" y="8" width="8" height="8" fill="#3a9a1a"/><rect x="9.2" y="11" width="5.6" height="4" fill="#fff"/><rect x="10.2" y="12.2" width="3.6" height="1" fill="#a8e088"/></svg>
<svg style="left:424px;top:9px" width="15" height="15" viewBox="0 0 15 15"><path d="M2.5 1 V14.5 M0 12.5 H13" stroke="#505050" stroke-width="1.2" fill="none"/><path d="M2.5 0 L0.8 2.5 H4.2 Z M14.5 12.5 L12 10.8 V14.2 Z" fill="#505050"/><path d="M7 2 L10.5 5 L7 8 Z" fill="#30c030" stroke="#0a8a0a" stroke-width="0.8"/></svg>
<svg style="left:452px;top:9px" width="15" height="15" viewBox="0 0 15 15"><path d="M2.5 1 V14.5 M0 12.5 H13" stroke="#505050" stroke-width="1.2" fill="none"/><path d="M2.5 0 L0.8 2.5 H4.2 Z M14.5 12.5 L12 10.8 V14.2 Z" fill="#505050"/><path d="M8.5 0 V10" stroke="#1868b0" stroke-width="1.3"/><path d="M9.5 5.5 L12.5 3.8 V7.2 Z M12 5.5 H14.5" fill="#e05010" stroke="#e05010" stroke-width="1"/></svg>
<svg style="left:485px;top:7px" width="17" height="18" viewBox="0 0 17 18"><path d="M0.5 0.5 H8 L11.5 4 V13.5 H0.5 Z" fill="#fff" stroke="#707070"/><path d="M8 0.5 V4 H11.5" fill="#e8e8e8" stroke="#707070"/><path d="M5 3 C3 3 4 6 2.8 6.8 C4 7.5 3 10.5 5 10.5" stroke="#605030" fill="none"/><path d="M8.5 6.5 H11.5 V9.5 H15.5 V13 H11.5 V17 H8.5 V13 H4.5 V9.5 H8.5 Z" fill="#22cc22" stroke="#0a8a0a"/></svg>
<svg style="left:523px;top:7px" width="16" height="16" viewBox="0 0 16 16"><circle cx="8" cy="8" r="7.2" fill="#1878d8" stroke="#0858a8"/><circle cx="8" cy="8" r="5" fill="#f4f8ff"/><path d="M8 4.5 V8 H10.8" stroke="#303030" stroke-width="1.2" fill="none"/></svg>
<svg style="left:562px;top:8px" width="16" height="14" viewBox="0 0 16 14"><rect x="0.5" y="0.5" width="15" height="13" fill="#fff" stroke="#3878c8"/><rect x="1" y="1" width="14" height="2" fill="#68a8e8"/><path d="M1 7.5 H15" stroke="#3878c8"/><path d="M2 6 L4.5 6 L6 4.5 L8 5.5 L10 5.5 L12 4.5 H14" stroke="#a02808" stroke-width="1.3" fill="none"/><path d="M2 11 L4 10.5 L6 11.5 L8 10.5 L10 9.2 L12 10.5 L13.5 11.5" stroke="#108810" stroke-width="1.3" fill="none"/></svg>
<svg style="left:613px;top:8px" width="10" height="15" viewBox="0 0 10 15"><path d="M0.8 0 V11.5 L3.6 9 L6 14.2 L7.8 13.3 L5.5 8.3 L9 8.2 Z" fill="#484848"/></svg>
<svg style="left:639px;top:8px" width="16" height="16" viewBox="0 0 16 16"><path d="M7.5 0 V6 M7.5 9 V15 M0 7.5 H6 M9 7.5 H15" stroke="#484848" stroke-width="1.3"/><rect x="7" y="7" width="1" height="1" fill="#484848"/></svg>
<svg style="left:679px;top:9px" width="3" height="13" viewBox="0 0 3 13"><path d="M1.5 0 V13" stroke="#484848" stroke-width="1.4"/></svg>
<svg style="left:703px;top:14px" width="12" height="3" viewBox="0 0 12 3"><path d="M0 1.5 H12" stroke="#484848" stroke-width="1.4"/></svg>
<svg style="left:730px;top:9px" width="14" height="14" viewBox="0 0 14 14"><path d="M0.8 12.8 L13 0.8" stroke="#484848" stroke-width="1.3"/></svg>
<svg style="left:756px;top:6px" width="17" height="19" viewBox="0 0 17 19"><path d="M0.5 11 L12 2.5 M2.5 15 L14 6.5" stroke="#484848" stroke-width="1.1"/><path d="M4.5 6.5 L3.5 14.5 M7.5 4.5 L6.5 12.5 M11 1 L10 10" stroke="#484848" stroke-width="1.1"/><path d="M2.5 9.5 L5.5 10.5 M5.5 7.5 L8.5 8.5 M9 5 L12 6" stroke="#484848" stroke-width="0.9"/><text x="12" y="18.5" font-size="6.5" font-weight="700" fill="#303030" font-family="Liberation Sans,sans-serif">E</text></svg>
<svg style="left:786px;top:8px" width="15" height="17" viewBox="0 0 15 17"><path d="M0 0.5 H13.5 M0 3.5 H13.5 M0 7.5 H13.5 M0 11.5 H9.5" stroke="#484848" stroke-width="1" stroke-dasharray="1 1"/><text x="9.8" y="16" font-size="6.5" font-weight="700" fill="#303030" font-family="Liberation Sans,sans-serif">F</text></svg>
<span style="position:absolute;left:816.2px;top:7.5px;font-size:12.5px;line-height:15px;font-weight:700;color:#505050;font-family:'Liberation Sans',sans-serif">A</span>
<svg style="left:842px;top:8px" width="14" height="15" viewBox="0 0 14 15"><rect x="1.5" y="1.5" width="11" height="12" fill="none" stroke="#484848" stroke-width="1" stroke-dasharray="1 1" shape-rendering="crispEdges"/><path d="M0.5 0.5 L2.5 1.5" stroke="#484848"/><path d="M3.5 4 H10.5 M7 4 V11.5" stroke="#484848" stroke-width="1.5" fill="none"/></svg>
<svg style="left:870px;top:8px" width="15" height="15" viewBox="0 0 15 15"><path d="M3.5 0.5 L7 4 H0 Z" fill="#484848"/><path d="M1.5 4 H5.5 V5 H1.5 Z" fill="#484848"/><path d="M11 13.8 L7.5 10 H14.5 Z" fill="#484848"/><path d="M9 9 H13 V10 H9 Z" fill="#484848"/><path d="M3 8.5 L5 10.5 L9.5 4.5" stroke="#484848" stroke-width="1.3" fill="none"/></svg>
<svg style="left:1624px;top:7px" width="16" height="16" viewBox="0 0 16 16"><path d="M6.5 9.5 L1.5 14.5" stroke="#2858b8" stroke-width="2.6" stroke-linecap="round"/><circle cx="10" cy="6" r="4.6" fill="#fff" stroke="#2858b8" stroke-width="1.6"/></svg>
<svg style="left:1651px;top:6px" width="23" height="18" viewBox="0 0 23 18"><path d="M10 2 C10 0.5 22 0.5 22 5 C22 8 19 9 17.5 9 L18.5 11.5 L15 9 C12 9 10 7.5 10 5 Z" fill="#f4f4f4" stroke="#909090"/><path d="M1 8.5 C1 5 12 5 12 9 C12 12.5 8 13 6.5 13 L3.5 15.5 L4.2 12.6 C2.5 12.2 1 11 1 8.5 Z" fill="#fcfcfc" stroke="#909090"/></svg>
</div>

<div id="ocp">
<div class="red1" style="left:3px;top:4px;width:52px;height:24px"></div>
<div class="red2" style="left:3px;top:28px;width:109px;height:40px"></div>
<div class="red1" style="left:170px;top:4px;width:52px;height:24px"></div>
<div class="red2" style="left:114px;top:28px;width:108px;height:40px"></div>
<div style="left:7px;top:26.5px;width:44px;height:1px;background:#b82020"></div><div style="left:7px;top:27.5px;width:44px;height:1px;background:#f08c8c"></div>
<div style="left:174px;top:26.5px;width:44px;height:1px;background:#b82020"></div><div style="left:174px;top:27.5px;width:44px;height:1px;background:#f08c8c"></div>
<div class="w" style="left:14.6px;top:8.8px;font-size:11px;line-height:14px">SELL</div>
<div class="w" style="left:183.4px;top:8.8px;font-size:11px;line-height:14px;letter-spacing:0.6px">BUY</div>
<div style="left:57px;top:5px;width:111px;height:21px;border:1px solid #a8a8a8;background:#fff"></div>
<div style="left:58px;top:6px;width:21px;height:19px;background:linear-gradient(#f4f4f4,#dcdcdc);border-right:1px solid #b8b8b8"></div>
<div style="left:146px;top:6px;width:21px;height:19px;background:linear-gradient(#f4f4f4,#dcdcdc);border-left:1px solid #b8b8b8"></div>
<div style="left:65px;top:13px;width:0;height:0;border-left:3px solid transparent;border-right:3px solid transparent;border-top:3px solid #000"></div>
<div style="left:153px;top:13px;width:0;height:0;border-left:3px solid transparent;border-right:3px solid transparent;border-bottom:3px solid #000"></div>
<div style="left:100px;top:7px;width:43.4px;text-align:right;font-size:11.5px;line-height:14px;color:#111;letter-spacing:0.7px">1.00</div>
<div class="w" style="left:19.2px;top:47.5px;font-size:12px;font-weight:700;line-height:14px;letter-spacing:0.5px">21521</div>
<div class="w" style="left:56.2px;top:30.5px;font-size:34.5px;line-height:34px">.</div><div class="w" style="left:63.4px;top:30.5px;font-size:34.5px;line-height:34px">0</div>
<div class="w" style="left:129.2px;top:47.5px;font-size:12px;font-weight:700;line-height:14px;letter-spacing:0.5px">21544</div>
<div class="w" style="left:167.4px;top:30.5px;font-size:34.5px;line-height:34px">.</div><div class="w" style="left:174.7px;top:30.5px;font-size:34.5px;line-height:34px">0</div>
</div>

</body></html>
